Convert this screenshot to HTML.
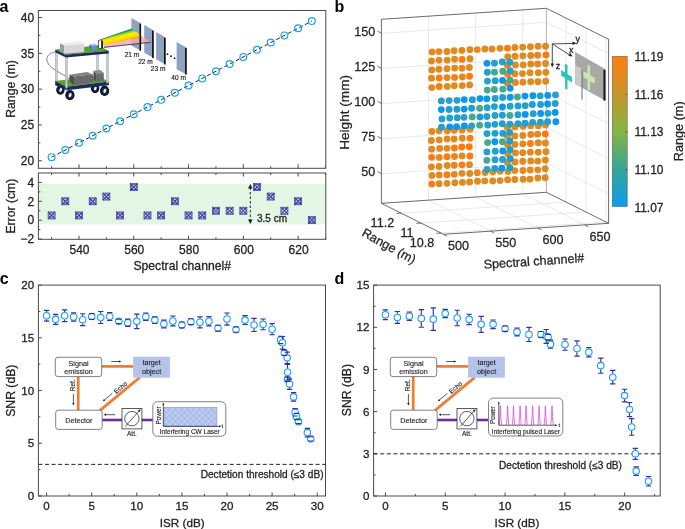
<!DOCTYPE html><html><head><meta charset="utf-8"><style>html,body{margin:0;padding:0;background:#fff;}svg{display:block;font-family:"Liberation Sans",sans-serif;will-change:transform;}</style></head><body><svg width="685" height="529" viewBox="0 0 685 529" font-family="Liberation Sans, sans-serif"><rect width="685" height="529" fill="#fff"/><text x="-0.6" y="11.6" font-size="16" font-weight="bold" fill="#000">a</text>
<text x="334.6" y="11.6" font-size="16" font-weight="bold" fill="#000">b</text>
<text x="-0.2" y="283.5" font-size="16" font-weight="bold" fill="#000">c</text>
<text x="334.6" y="283.5" font-size="16" font-weight="bold" fill="#000">d</text>
<rect x="38.4" y="10.5" width="287.40000000000003" height="157.8" fill="none" stroke="#4a4a4a" stroke-width="1"/>
<line x1="38.40" y1="160.75" x2="41.90" y2="160.75" stroke="#4a4a4a" stroke-width="1" />
<text x="34.10" y="164.95" font-size="12" text-anchor="end" fill="#222" stroke="#222" stroke-width="0.28" >20</text>
<line x1="38.40" y1="124.94" x2="41.90" y2="124.94" stroke="#4a4a4a" stroke-width="1" />
<text x="34.10" y="129.14" font-size="12" text-anchor="end" fill="#222" stroke="#222" stroke-width="0.28" >25</text>
<line x1="38.40" y1="89.12" x2="41.90" y2="89.12" stroke="#4a4a4a" stroke-width="1" />
<text x="34.10" y="93.33" font-size="12" text-anchor="end" fill="#222" stroke="#222" stroke-width="0.28" >30</text>
<line x1="38.40" y1="53.31" x2="41.90" y2="53.31" stroke="#4a4a4a" stroke-width="1" />
<text x="34.10" y="57.51" font-size="12" text-anchor="end" fill="#222" stroke="#222" stroke-width="0.28" >35</text>
<line x1="38.40" y1="17.50" x2="41.90" y2="17.50" stroke="#4a4a4a" stroke-width="1" />
<text x="34.10" y="21.70" font-size="12" text-anchor="end" fill="#222" stroke="#222" stroke-width="0.28" >40</text>
<line x1="38.40" y1="142.84" x2="40.40" y2="142.84" stroke="#4a4a4a" stroke-width="1" />
<line x1="38.40" y1="107.03" x2="40.40" y2="107.03" stroke="#4a4a4a" stroke-width="1" />
<line x1="38.40" y1="71.22" x2="40.40" y2="71.22" stroke="#4a4a4a" stroke-width="1" />
<line x1="38.40" y1="35.41" x2="40.40" y2="35.41" stroke="#4a4a4a" stroke-width="1" />
<line x1="51.60" y1="168.30" x2="51.60" y2="166.30" stroke="#4a4a4a" stroke-width="1" />
<line x1="78.99" y1="168.30" x2="78.99" y2="164.30" stroke="#4a4a4a" stroke-width="1" />
<line x1="106.38" y1="168.30" x2="106.38" y2="166.30" stroke="#4a4a4a" stroke-width="1" />
<line x1="133.77" y1="168.30" x2="133.77" y2="164.30" stroke="#4a4a4a" stroke-width="1" />
<line x1="161.16" y1="168.30" x2="161.16" y2="166.30" stroke="#4a4a4a" stroke-width="1" />
<line x1="188.55" y1="168.30" x2="188.55" y2="164.30" stroke="#4a4a4a" stroke-width="1" />
<line x1="215.94" y1="168.30" x2="215.94" y2="166.30" stroke="#4a4a4a" stroke-width="1" />
<line x1="243.33" y1="168.30" x2="243.33" y2="164.30" stroke="#4a4a4a" stroke-width="1" />
<line x1="270.72" y1="168.30" x2="270.72" y2="166.30" stroke="#4a4a4a" stroke-width="1" />
<line x1="298.11" y1="168.30" x2="298.11" y2="164.30" stroke="#4a4a4a" stroke-width="1" />
<line x1="325.50" y1="168.30" x2="325.50" y2="166.30" stroke="#4a4a4a" stroke-width="1" />
<text x="0" y="0" font-size="12.2" text-anchor="middle" fill="#222" stroke="#222" stroke-width="0.28" transform="translate(15.30 88.95) rotate(-90)">Range (m)</text>
<line x1="51.60" y1="157.17" x2="311.81" y2="21.08" stroke="#222" stroke-width="1" stroke-dasharray="4 2.5"/>
<circle cx="51.60" cy="157.17" r="3.4" fill="none" stroke="#1aa0ec" stroke-width="1.2"/>
<circle cx="65.30" cy="150.01" r="3.4" fill="none" stroke="#1aa0ec" stroke-width="1.2"/>
<circle cx="78.99" cy="142.84" r="3.4" fill="none" stroke="#1aa0ec" stroke-width="1.2"/>
<circle cx="92.69" cy="135.68" r="3.4" fill="none" stroke="#1aa0ec" stroke-width="1.2"/>
<circle cx="106.38" cy="128.52" r="3.4" fill="none" stroke="#1aa0ec" stroke-width="1.2"/>
<circle cx="120.07" cy="121.36" r="3.4" fill="none" stroke="#1aa0ec" stroke-width="1.2"/>
<circle cx="133.77" cy="114.19" r="3.4" fill="none" stroke="#1aa0ec" stroke-width="1.2"/>
<circle cx="147.47" cy="107.03" r="3.4" fill="none" stroke="#1aa0ec" stroke-width="1.2"/>
<circle cx="161.16" cy="99.87" r="3.4" fill="none" stroke="#1aa0ec" stroke-width="1.2"/>
<circle cx="174.85" cy="92.71" r="3.4" fill="none" stroke="#1aa0ec" stroke-width="1.2"/>
<circle cx="188.55" cy="85.54" r="3.4" fill="none" stroke="#1aa0ec" stroke-width="1.2"/>
<circle cx="202.24" cy="78.38" r="3.4" fill="none" stroke="#1aa0ec" stroke-width="1.2"/>
<circle cx="215.94" cy="71.22" r="3.4" fill="none" stroke="#1aa0ec" stroke-width="1.2"/>
<circle cx="229.63" cy="64.06" r="3.4" fill="none" stroke="#1aa0ec" stroke-width="1.2"/>
<circle cx="243.33" cy="56.89" r="3.4" fill="none" stroke="#1aa0ec" stroke-width="1.2"/>
<circle cx="257.02" cy="49.73" r="3.4" fill="none" stroke="#1aa0ec" stroke-width="1.2"/>
<circle cx="270.72" cy="42.57" r="3.4" fill="none" stroke="#1aa0ec" stroke-width="1.2"/>
<circle cx="284.42" cy="35.41" r="3.4" fill="none" stroke="#1aa0ec" stroke-width="1.2"/>
<circle cx="298.11" cy="28.24" r="3.4" fill="none" stroke="#1aa0ec" stroke-width="1.2"/>
<circle cx="311.81" cy="21.08" r="3.4" fill="none" stroke="#1aa0ec" stroke-width="1.2"/>
<rect x="38.4" y="183.82" width="287.40000000000003" height="40.63" fill="#e3f6e3"/>
<rect x="38.4" y="173" width="287.40000000000003" height="66.30000000000001" fill="none" stroke="#4a4a4a" stroke-width="1"/>
<line x1="38.40" y1="239.10" x2="41.90" y2="239.10" stroke="#4a4a4a" stroke-width="1" />
<text x="34.10" y="243.30" font-size="12" text-anchor="end" fill="#222" stroke="#222" stroke-width="0.28" >−2</text>
<line x1="38.40" y1="220.20" x2="41.90" y2="220.20" stroke="#4a4a4a" stroke-width="1" />
<text x="34.10" y="224.40" font-size="12" text-anchor="end" fill="#222" stroke="#222" stroke-width="0.28" >0</text>
<line x1="38.40" y1="201.30" x2="41.90" y2="201.30" stroke="#4a4a4a" stroke-width="1" />
<text x="34.10" y="205.50" font-size="12" text-anchor="end" fill="#222" stroke="#222" stroke-width="0.28" >2</text>
<line x1="38.40" y1="182.40" x2="41.90" y2="182.40" stroke="#4a4a4a" stroke-width="1" />
<text x="34.10" y="186.60" font-size="12" text-anchor="end" fill="#222" stroke="#222" stroke-width="0.28" >4</text>
<line x1="38.40" y1="229.65" x2="40.40" y2="229.65" stroke="#4a4a4a" stroke-width="1" />
<line x1="38.40" y1="210.75" x2="40.40" y2="210.75" stroke="#4a4a4a" stroke-width="1" />
<line x1="38.40" y1="191.85" x2="40.40" y2="191.85" stroke="#4a4a4a" stroke-width="1" />
<line x1="51.60" y1="239.30" x2="51.60" y2="237.30" stroke="#4a4a4a" stroke-width="1" />
<line x1="51.60" y1="173.00" x2="51.60" y2="175.00" stroke="#4a4a4a" stroke-width="1" />
<line x1="78.99" y1="239.30" x2="78.99" y2="235.80" stroke="#4a4a4a" stroke-width="1" />
<line x1="78.99" y1="173.00" x2="78.99" y2="176.50" stroke="#4a4a4a" stroke-width="1" />
<text x="79.49" y="253.60" font-size="12" text-anchor="middle" fill="#222" stroke="#222" stroke-width="0.28" >540</text>
<line x1="106.38" y1="239.30" x2="106.38" y2="237.30" stroke="#4a4a4a" stroke-width="1" />
<line x1="106.38" y1="173.00" x2="106.38" y2="175.00" stroke="#4a4a4a" stroke-width="1" />
<line x1="133.77" y1="239.30" x2="133.77" y2="235.80" stroke="#4a4a4a" stroke-width="1" />
<line x1="133.77" y1="173.00" x2="133.77" y2="176.50" stroke="#4a4a4a" stroke-width="1" />
<text x="134.27" y="253.60" font-size="12" text-anchor="middle" fill="#222" stroke="#222" stroke-width="0.28" >560</text>
<line x1="161.16" y1="239.30" x2="161.16" y2="237.30" stroke="#4a4a4a" stroke-width="1" />
<line x1="161.16" y1="173.00" x2="161.16" y2="175.00" stroke="#4a4a4a" stroke-width="1" />
<line x1="188.55" y1="239.30" x2="188.55" y2="235.80" stroke="#4a4a4a" stroke-width="1" />
<line x1="188.55" y1="173.00" x2="188.55" y2="176.50" stroke="#4a4a4a" stroke-width="1" />
<text x="189.05" y="253.60" font-size="12" text-anchor="middle" fill="#222" stroke="#222" stroke-width="0.28" >580</text>
<line x1="215.94" y1="239.30" x2="215.94" y2="237.30" stroke="#4a4a4a" stroke-width="1" />
<line x1="215.94" y1="173.00" x2="215.94" y2="175.00" stroke="#4a4a4a" stroke-width="1" />
<line x1="243.33" y1="239.30" x2="243.33" y2="235.80" stroke="#4a4a4a" stroke-width="1" />
<line x1="243.33" y1="173.00" x2="243.33" y2="176.50" stroke="#4a4a4a" stroke-width="1" />
<text x="243.83" y="253.60" font-size="12" text-anchor="middle" fill="#222" stroke="#222" stroke-width="0.28" >600</text>
<line x1="270.72" y1="239.30" x2="270.72" y2="237.30" stroke="#4a4a4a" stroke-width="1" />
<line x1="270.72" y1="173.00" x2="270.72" y2="175.00" stroke="#4a4a4a" stroke-width="1" />
<line x1="298.11" y1="239.30" x2="298.11" y2="235.80" stroke="#4a4a4a" stroke-width="1" />
<line x1="298.11" y1="173.00" x2="298.11" y2="176.50" stroke="#4a4a4a" stroke-width="1" />
<text x="298.61" y="253.60" font-size="12" text-anchor="middle" fill="#222" stroke="#222" stroke-width="0.28" >620</text>
<line x1="325.50" y1="239.30" x2="325.50" y2="237.30" stroke="#4a4a4a" stroke-width="1" />
<line x1="325.50" y1="173.00" x2="325.50" y2="175.00" stroke="#4a4a4a" stroke-width="1" />
<text x="182.20" y="270.00" font-size="12.2" text-anchor="middle" fill="#222" stroke="#222" stroke-width="0.28" >Spectral channel#</text>
<text x="0" y="0" font-size="12.2" text-anchor="middle" fill="#222" stroke="#222" stroke-width="0.28" transform="translate(15.30 206.15) rotate(-90)">Error (cm)</text>
<g stroke="#2b2b9e" fill="none"><rect x="48.10" y="211.97" width="7.0" height="7.0" stroke-width="0.7"/><path d="M48.10 211.97 L55.10 218.97 M48.10 218.97 L55.10 211.97" stroke-width="1.05"/><circle cx="51.60" cy="215.47" r="2.75" stroke-width="0.9"/></g>
<g stroke="#2b2b9e" fill="none"><rect x="61.80" y="197.80" width="7.0" height="7.0" stroke-width="0.7"/><path d="M61.80 197.80 L68.80 204.80 M61.80 204.80 L68.80 197.80" stroke-width="1.05"/><circle cx="65.30" cy="201.30" r="2.75" stroke-width="0.9"/></g>
<g stroke="#2b2b9e" fill="none"><rect x="75.49" y="211.97" width="7.0" height="7.0" stroke-width="0.7"/><path d="M75.49 211.97 L82.49 218.97 M75.49 218.97 L82.49 211.97" stroke-width="1.05"/><circle cx="78.99" cy="215.47" r="2.75" stroke-width="0.9"/></g>
<g stroke="#2b2b9e" fill="none"><rect x="89.19" y="197.80" width="7.0" height="7.0" stroke-width="0.7"/><path d="M89.19 197.80 L96.19 204.80 M89.19 204.80 L96.19 197.80" stroke-width="1.05"/><circle cx="92.69" cy="201.30" r="2.75" stroke-width="0.9"/></g>
<g stroke="#2b2b9e" fill="none"><rect x="102.88" y="193.07" width="7.0" height="7.0" stroke-width="0.7"/><path d="M102.88 193.07 L109.88 200.07 M102.88 200.07 L109.88 193.07" stroke-width="1.05"/><circle cx="106.38" cy="196.57" r="2.75" stroke-width="0.9"/></g>
<g stroke="#2b2b9e" fill="none"><rect x="116.57" y="211.97" width="7.0" height="7.0" stroke-width="0.7"/><path d="M116.57 211.97 L123.57 218.97 M116.57 218.97 L123.57 211.97" stroke-width="1.05"/><circle cx="120.07" cy="215.47" r="2.75" stroke-width="0.9"/></g>
<g stroke="#2b2b9e" fill="none"><rect x="130.27" y="183.62" width="7.0" height="7.0" stroke-width="0.7"/><path d="M130.27 183.62 L137.27 190.62 M130.27 190.62 L137.27 183.62" stroke-width="1.05"/><circle cx="133.77" cy="187.12" r="2.75" stroke-width="0.9"/></g>
<g stroke="#2b2b9e" fill="none"><rect x="143.97" y="211.97" width="7.0" height="7.0" stroke-width="0.7"/><path d="M143.97 211.97 L150.97 218.97 M143.97 218.97 L150.97 211.97" stroke-width="1.05"/><circle cx="147.47" cy="215.47" r="2.75" stroke-width="0.9"/></g>
<g stroke="#2b2b9e" fill="none"><rect x="157.66" y="211.97" width="7.0" height="7.0" stroke-width="0.7"/><path d="M157.66 211.97 L164.66 218.97 M157.66 218.97 L164.66 211.97" stroke-width="1.05"/><circle cx="161.16" cy="215.47" r="2.75" stroke-width="0.9"/></g>
<g stroke="#2b2b9e" fill="none"><rect x="171.35" y="197.80" width="7.0" height="7.0" stroke-width="0.7"/><path d="M171.35 197.80 L178.35 204.80 M171.35 204.80 L178.35 197.80" stroke-width="1.05"/><circle cx="174.85" cy="201.30" r="2.75" stroke-width="0.9"/></g>
<g stroke="#2b2b9e" fill="none"><rect x="185.05" y="211.97" width="7.0" height="7.0" stroke-width="0.7"/><path d="M185.05 211.97 L192.05 218.97 M185.05 218.97 L192.05 211.97" stroke-width="1.05"/><circle cx="188.55" cy="215.47" r="2.75" stroke-width="0.9"/></g>
<g stroke="#2b2b9e" fill="none"><rect x="198.74" y="211.97" width="7.0" height="7.0" stroke-width="0.7"/><path d="M198.74 211.97 L205.74 218.97 M198.74 218.97 L205.74 211.97" stroke-width="1.05"/><circle cx="202.24" cy="215.47" r="2.75" stroke-width="0.9"/></g>
<g stroke="#2b2b9e" fill="none"><rect x="212.44" y="207.25" width="7.0" height="7.0" stroke-width="0.7"/><path d="M212.44 207.25 L219.44 214.25 M212.44 214.25 L219.44 207.25" stroke-width="1.05"/><circle cx="215.94" cy="210.75" r="2.75" stroke-width="0.9"/></g>
<g stroke="#2b2b9e" fill="none"><rect x="226.13" y="207.25" width="7.0" height="7.0" stroke-width="0.7"/><path d="M226.13 207.25 L233.13 214.25 M226.13 214.25 L233.13 207.25" stroke-width="1.05"/><circle cx="229.63" cy="210.75" r="2.75" stroke-width="0.9"/></g>
<g stroke="#2b2b9e" fill="none"><rect x="239.83" y="207.25" width="7.0" height="7.0" stroke-width="0.7"/><path d="M239.83 207.25 L246.83 214.25 M239.83 214.25 L246.83 207.25" stroke-width="1.05"/><circle cx="243.33" cy="210.75" r="2.75" stroke-width="0.9"/></g>
<g stroke="#2b2b9e" fill="none"><rect x="253.52" y="183.62" width="7.0" height="7.0" stroke-width="0.7"/><path d="M253.52 183.62 L260.52 190.62 M253.52 190.62 L260.52 183.62" stroke-width="1.05"/><circle cx="257.02" cy="187.12" r="2.75" stroke-width="0.9"/></g>
<g stroke="#2b2b9e" fill="none"><rect x="267.22" y="193.07" width="7.0" height="7.0" stroke-width="0.7"/><path d="M267.22 193.07 L274.22 200.07 M267.22 200.07 L274.22 193.07" stroke-width="1.05"/><circle cx="270.72" cy="196.57" r="2.75" stroke-width="0.9"/></g>
<g stroke="#2b2b9e" fill="none"><rect x="280.92" y="207.25" width="7.0" height="7.0" stroke-width="0.7"/><path d="M280.92 207.25 L287.92 214.25 M280.92 214.25 L287.92 207.25" stroke-width="1.05"/><circle cx="284.42" cy="210.75" r="2.75" stroke-width="0.9"/></g>
<g stroke="#2b2b9e" fill="none"><rect x="294.61" y="197.80" width="7.0" height="7.0" stroke-width="0.7"/><path d="M294.61 197.80 L301.61 204.80 M294.61 204.80 L301.61 197.80" stroke-width="1.05"/><circle cx="298.11" cy="201.30" r="2.75" stroke-width="0.9"/></g>
<g stroke="#2b2b9e" fill="none"><rect x="308.31" y="216.70" width="7.0" height="7.0" stroke-width="0.7"/><path d="M308.31 216.70 L315.31 223.70 M308.31 223.70 L315.31 216.70" stroke-width="1.05"/><circle cx="311.81" cy="220.20" r="2.75" stroke-width="0.9"/></g>
<line x1="250.3" y1="187.5" x2="250.3" y2="220.5" stroke="#222" stroke-width="1" stroke-dasharray="2.5 2"/>
<path d="M250.3 184 L248 188.5 L252.6 188.5 Z" fill="#222"/>
<path d="M250.3 224 L248 219.5 L252.6 219.5 Z" fill="#222"/>
<text x="257.00" y="221.60" font-size="10" text-anchor="start" fill="#222" stroke="#222" stroke-width="0.28" >3.5 cm</text>
<path d="M57.5 51.5 C 45 53, 44 61, 52 68 L 70 79" fill="none" stroke="#3b4f8f" stroke-width="0.7"/>
<rect x="55.40" y="51" width="1.8" height="31" fill="#c9ccd8" stroke="#8a8e9c" stroke-width="0.4"/>
<rect x="96.60" y="46" width="1.8" height="31" fill="#c9ccd8" stroke="#8a8e9c" stroke-width="0.4"/>
<ellipse cx="60.4" cy="90.0" rx="4.2" ry="4.7" fill="#0b0f1e"/><ellipse cx="60.4" cy="90.0" rx="2.6" ry="3.1" fill="#1c2b5a"/><ellipse cx="60.6" cy="89.8" rx="1.2" ry="2.0" fill="#fff" transform="rotate(20 60.4 90.0)"/>
<ellipse cx="95.1" cy="88.5" rx="4.2" ry="4.7" fill="#0b0f1e"/><ellipse cx="95.1" cy="88.5" rx="2.6" ry="3.1" fill="#1c2b5a"/><ellipse cx="95.3" cy="88.3" rx="1.2" ry="2.0" fill="#fff" transform="rotate(20 95.1 88.5)"/>
<polygon points="55.20,81.00 97.60,75.70 108.90,81.50 66.50,86.80" fill="#5aa02c" stroke="none" stroke-width="0" />
<polygon points="55.20,81.00 66.50,86.80 66.50,90.30 55.20,85.30" fill="#1c2b5a" stroke="none" stroke-width="0" />
<polygon points="66.50,86.80 108.90,81.50 108.90,85.20 66.50,90.30" fill="#1c2b5a" stroke="none" stroke-width="0" />
<polygon points="93.50,70.70 100.50,70.00 103.80,73.00 96.30,73.80" fill="#8a8a8a" stroke="none" stroke-width="0" />
<polygon points="93.50,70.70 96.30,73.80 96.30,81.80 93.50,79.50" fill="#505050" stroke="none" stroke-width="0" />
<polygon points="96.30,73.80 103.80,73.00 103.80,81.00 96.30,81.80" fill="#6b6b6b" stroke="none" stroke-width="0" />
<polygon points="69.50,74.80 86.90,72.10 93.00,74.30 74.10,76.60" fill="#838383" stroke="none" stroke-width="0" />
<polygon points="69.50,74.80 74.10,76.60 74.10,85.20 69.50,81.80" fill="#4f4f4f" stroke="none" stroke-width="0" />
<polygon points="74.10,76.60 93.00,74.30 93.00,82.20 74.10,85.20" fill="#6a6a6a" stroke="none" stroke-width="0" />
<rect x="65.35" y="56" width="1.9" height="32" fill="#c9ccd8" stroke="#8a8e9c" stroke-width="0.4"/>
<rect x="106.45" y="52" width="1.9" height="31" fill="#c9ccd8" stroke="#8a8e9c" stroke-width="0.4"/>
<ellipse cx="69.9" cy="95.2" rx="4.6" ry="5.1" fill="#0b0f1e"/><ellipse cx="69.9" cy="95.2" rx="2.9" ry="3.4" fill="#1c2b5a"/><ellipse cx="70.10000000000001" cy="95.0" rx="1.3" ry="2.2" fill="#fff" transform="rotate(20 69.9 95.2)"/>
<ellipse cx="104.6" cy="90.9" rx="4.6" ry="5.1" fill="#0b0f1e"/><ellipse cx="104.6" cy="90.9" rx="2.9" ry="3.4" fill="#1c2b5a"/><ellipse cx="104.8" cy="90.7" rx="1.3" ry="2.2" fill="#fff" transform="rotate(20 104.6 90.9)"/>
<polygon points="55.30,49.50 98.20,45.60 108.70,50.80 65.80,54.70" fill="#5aa02c" stroke="none" stroke-width="0" />
<polygon points="55.30,49.50 65.80,54.70 65.80,57.40 55.30,52.20" fill="#1c2b5a" stroke="none" stroke-width="0" />
<polygon points="65.80,54.70 108.70,50.80 108.70,53.50 65.80,57.40" fill="#1c2b5a" stroke="none" stroke-width="0" />
<polygon points="60.00,43.30 79.80,41.10 84.20,43.80 64.00,45.50" fill="#eceff6" stroke="none" stroke-width="0" />
<polygon points="60.00,43.30 64.00,45.50 64.00,53.80 60.00,51.50" fill="#9c9c9c" stroke="none" stroke-width="0" />
<polygon points="64.00,45.50 84.20,43.80 84.20,52.10 64.00,53.80" fill="#d8d8dc" stroke="none" stroke-width="0" />
<polygon points="89.50,44.20 94.50,43.50 96.80,45.00 91.50,45.80" fill="#a9c6f4" stroke="none" stroke-width="0" />
<polygon points="89.50,44.20 91.50,45.80 91.50,49.70 89.50,48.00" fill="#3f6fc2" stroke="none" stroke-width="0" />
<polygon points="91.50,45.80 96.80,45.00 96.80,49.00 91.50,49.70" fill="#5c90e2" stroke="none" stroke-width="0" />
<polygon points="131.40,17.90 140.90,23.20 140.90,50.70 131.40,45.40" fill="#8fa3c1" stroke="none" stroke-width="0" />
<polygon points="144.20,24.90 153.50,30.20 153.50,58.00 144.20,52.70" fill="#8fa3c1" stroke="none" stroke-width="0" />
<polygon points="156.10,31.90 165.40,37.20 165.40,64.60 156.10,59.30" fill="#8fa3c1" stroke="none" stroke-width="0" />
<polygon points="176.60,42.10 186.50,47.40 186.50,74.50 176.60,69.30" fill="#8fa3c1" stroke="none" stroke-width="0" />
<defs><linearGradient id="beam" gradientUnits="userSpaceOnUse" x1="119.5" y1="32" x2="122" y2="41.5"><stop offset="0" stop-color="#0a9ad8"/><stop offset="0.12" stop-color="#10b860"/><stop offset="0.32" stop-color="#b8e000"/><stop offset="0.48" stop-color="#ffec00"/><stop offset="0.8" stop-color="#ffd800"/><stop offset="1" stop-color="#ffa000"/></linearGradient></defs>
<polygon points="100.50,39.60 131.80,28.80 142.70,36.80 103.50,45.20" fill="url(#beam)" stroke="none" stroke-width="0" />
<polygon points="103.50,45.20 142.70,36.80 150.80,42.30 103.80,47.40" fill="#f3a9ae" stroke="none" stroke-width="0" fill-opacity="0.85"/>
<line x1="103.8" y1="47.4" x2="150.8" y2="42.3" stroke="#1c2440" stroke-width="0.8"/>
<line x1="100.5" y1="39.6" x2="131.8" y2="28.8" stroke="#1c2440" stroke-width="0.4"/>
<polygon points="98.40,40.60 100.80,39.80 102.40,40.80 102.40,48.20 100.20,48.80 98.40,47.80" fill="#ffffff" stroke="#111" stroke-width="0.7" />
<polygon points="101.20,40.40 102.80,41.00 102.80,48.20 101.20,48.60" fill="#111" stroke="none" stroke-width="0" />
<line x1="140.30" y1="23.70" x2="140.30" y2="50.70" stroke="#0a0a0a" stroke-width="1.6"/>
<line x1="152.90" y1="30.70" x2="152.90" y2="58.00" stroke="#0a0a0a" stroke-width="1.6"/>
<line x1="164.80" y1="37.70" x2="164.80" y2="64.60" stroke="#0a0a0a" stroke-width="1.6"/>
<line x1="185.90" y1="47.90" x2="185.90" y2="74.50" stroke="#0a0a0a" stroke-width="1.6"/>
<text x="132.00" y="56.80" font-size="6.6" text-anchor="middle" fill="#111" stroke="#111" stroke-width="0.12" >21 m</text>
<text x="145.50" y="64.10" font-size="6.6" text-anchor="middle" fill="#111" stroke="#111" stroke-width="0.12" >22 m</text>
<text x="158.10" y="70.70" font-size="6.6" text-anchor="middle" fill="#111" stroke="#111" stroke-width="0.12" >23 m</text>
<text x="178.60" y="80.20" font-size="6.6" text-anchor="middle" fill="#111" stroke="#111" stroke-width="0.12" >40 m</text>
<circle cx="167.5" cy="54.2" r="0.9" fill="#111"/>
<circle cx="171.0" cy="56.2" r="0.9" fill="#111"/>
<circle cx="174.6" cy="58.2" r="0.9" fill="#111"/>
<line x1="381.40" y1="173.80" x2="546.40" y2="162.80" stroke="#e3e3e3" stroke-width="0.8" />
<line x1="381.40" y1="138.70" x2="546.40" y2="127.70" stroke="#e3e3e3" stroke-width="0.8" />
<line x1="381.40" y1="103.60" x2="546.40" y2="92.60" stroke="#e3e3e3" stroke-width="0.8" />
<line x1="381.40" y1="68.50" x2="546.40" y2="57.50" stroke="#e3e3e3" stroke-width="0.8" />
<line x1="381.40" y1="33.39" x2="546.40" y2="22.39" stroke="#e3e3e3" stroke-width="0.8" />
<line x1="428.51" y1="200.16" x2="428.51" y2="16.16" stroke="#e3e3e3" stroke-width="0.8" />
<line x1="475.61" y1="197.02" x2="475.61" y2="13.02" stroke="#e3e3e3" stroke-width="0.8" />
<line x1="522.72" y1="193.88" x2="522.72" y2="9.88" stroke="#e3e3e3" stroke-width="0.8" />
<line x1="546.40" y1="162.80" x2="608.60" y2="193.80" stroke="#e3e3e3" stroke-width="0.8" />
<line x1="546.40" y1="127.70" x2="608.60" y2="158.70" stroke="#e3e3e3" stroke-width="0.8" />
<line x1="546.40" y1="92.60" x2="608.60" y2="123.60" stroke="#e3e3e3" stroke-width="0.8" />
<line x1="546.40" y1="57.50" x2="608.60" y2="88.50" stroke="#e3e3e3" stroke-width="0.8" />
<line x1="546.40" y1="22.39" x2="608.60" y2="53.39" stroke="#e3e3e3" stroke-width="0.8" />
<line x1="565.99" y1="202.06" x2="565.99" y2="18.07" stroke="#e3e3e3" stroke-width="0.8" />
<line x1="586.02" y1="212.05" x2="586.02" y2="28.05" stroke="#e3e3e3" stroke-width="0.8" />
<line x1="606.05" y1="222.03" x2="606.05" y2="38.03" stroke="#e3e3e3" stroke-width="0.8" />
<line x1="428.51" y1="200.16" x2="490.71" y2="231.16" stroke="#e3e3e3" stroke-width="0.8" />
<line x1="475.61" y1="197.02" x2="537.81" y2="228.02" stroke="#e3e3e3" stroke-width="0.8" />
<line x1="522.72" y1="193.88" x2="584.92" y2="224.88" stroke="#e3e3e3" stroke-width="0.8" />
<line x1="400.99" y1="213.06" x2="565.99" y2="202.06" stroke="#e3e3e3" stroke-width="0.8" />
<line x1="421.02" y1="223.05" x2="586.02" y2="212.05" stroke="#e3e3e3" stroke-width="0.8" />
<line x1="441.05" y1="233.03" x2="606.05" y2="222.03" stroke="#e3e3e3" stroke-width="0.8" />
<line x1="381.40" y1="203.30" x2="381.40" y2="19.30" stroke="#3a3a3a" stroke-width="0.75" />
<line x1="381.40" y1="19.30" x2="546.40" y2="8.30" stroke="#3a3a3a" stroke-width="0.75" />
<line x1="546.40" y1="192.30" x2="546.40" y2="8.30" stroke="#9a9a9a" stroke-width="0.75" />
<line x1="381.40" y1="203.30" x2="546.40" y2="192.30" stroke="#3a3a3a" stroke-width="0.75" />
<line x1="546.40" y1="8.30" x2="608.60" y2="39.30" stroke="#3a3a3a" stroke-width="0.75" />
<line x1="608.60" y1="39.30" x2="608.60" y2="223.30" stroke="#3a3a3a" stroke-width="0.75" />
<line x1="546.40" y1="192.30" x2="608.60" y2="223.30" stroke="#3a3a3a" stroke-width="0.75" />
<line x1="381.40" y1="203.30" x2="443.60" y2="234.30" stroke="#3a3a3a" stroke-width="0.75" />
<line x1="443.60" y1="234.30" x2="608.60" y2="223.30" stroke="#3a3a3a" stroke-width="0.75" />
<line x1="381.40" y1="173.80" x2="377.50" y2="171.40" stroke="#3a3a3a" stroke-width="0.7" />
<text x="375.30" y="176.00" font-size="12.6" text-anchor="end" fill="#262626" stroke="#262626" stroke-width="0.28" >50</text>
<line x1="381.40" y1="138.70" x2="377.50" y2="136.30" stroke="#3a3a3a" stroke-width="0.7" />
<text x="375.30" y="140.90" font-size="12.6" text-anchor="end" fill="#262626" stroke="#262626" stroke-width="0.28" >75</text>
<line x1="381.40" y1="103.60" x2="377.50" y2="101.20" stroke="#3a3a3a" stroke-width="0.7" />
<text x="375.30" y="105.80" font-size="12.6" text-anchor="end" fill="#262626" stroke="#262626" stroke-width="0.28" >100</text>
<line x1="381.40" y1="68.50" x2="377.50" y2="66.10" stroke="#3a3a3a" stroke-width="0.7" />
<text x="375.30" y="70.70" font-size="12.6" text-anchor="end" fill="#262626" stroke="#262626" stroke-width="0.28" >125</text>
<line x1="381.40" y1="33.39" x2="377.50" y2="30.99" stroke="#3a3a3a" stroke-width="0.7" />
<text x="375.30" y="35.59" font-size="12.6" text-anchor="end" fill="#262626" stroke="#262626" stroke-width="0.28" >150</text>
<line x1="400.99" y1="213.06" x2="396.19" y2="213.37" stroke="#3a3a3a" stroke-width="0.7" />
<text x="394.20" y="227.00" font-size="12.6" text-anchor="end" fill="#262626" stroke="#262626" stroke-width="0.28" >11.2</text>
<line x1="421.02" y1="223.05" x2="416.22" y2="223.35" stroke="#3a3a3a" stroke-width="0.7" />
<text x="413.50" y="236.80" font-size="12.6" text-anchor="end" fill="#262626" stroke="#262626" stroke-width="0.28" >11</text>
<line x1="441.05" y1="233.03" x2="436.25" y2="233.33" stroke="#3a3a3a" stroke-width="0.7" />
<text x="434.30" y="247.20" font-size="12.6" text-anchor="end" fill="#262626" stroke="#262626" stroke-width="0.28" >10.8</text>
<line x1="443.60" y1="234.30" x2="447.20" y2="236.20" stroke="#3a3a3a" stroke-width="0.7" />
<text x="458.60" y="249.60" font-size="12.6" text-anchor="middle" fill="#262626" stroke="#262626" stroke-width="0.28" >500</text>
<line x1="490.71" y1="231.16" x2="494.31" y2="233.06" stroke="#3a3a3a" stroke-width="0.7" />
<text x="505.80" y="247.20" font-size="12.6" text-anchor="middle" fill="#262626" stroke="#262626" stroke-width="0.28" >550</text>
<line x1="537.81" y1="228.02" x2="541.41" y2="229.92" stroke="#3a3a3a" stroke-width="0.7" />
<text x="553.00" y="243.50" font-size="12.6" text-anchor="middle" fill="#262626" stroke="#262626" stroke-width="0.28" >600</text>
<line x1="584.92" y1="224.88" x2="588.52" y2="226.78" stroke="#3a3a3a" stroke-width="0.7" />
<text x="600.10" y="240.70" font-size="12.6" text-anchor="middle" fill="#262626" stroke="#262626" stroke-width="0.28" >650</text>
<text x="534.00" y="265.50" font-size="12.6" text-anchor="middle" fill="#262626" stroke="#262626" stroke-width="0.28" transform="rotate(-3.8 534 261)">Spectral channel#</text>
<text x="389.00" y="250.30" font-size="12.6" text-anchor="middle" fill="#262626" stroke="#262626" stroke-width="0.28" transform="rotate(29 389 246)">Range (m)</text>
<text x="0" y="0" font-size="13.6" text-anchor="middle" fill="#262626" stroke="#262626" stroke-width="0.28" transform="translate(349.00 112.40) rotate(-90)">Height (mm)</text>
<circle cx="432.06" cy="51.92" r="3.45" fill="#e08a1f"/>
<circle cx="438.95" cy="51.62" r="3.45" fill="#e08a1f"/>
<circle cx="446.95" cy="51.51" r="3.45" fill="#e08a1f"/>
<circle cx="454.10" cy="50.72" r="3.45" fill="#e08a1f"/>
<circle cx="461.85" cy="50.40" r="3.45" fill="#e08a1f"/>
<circle cx="469.91" cy="49.65" r="3.45" fill="#e08a1f"/>
<circle cx="477.34" cy="49.61" r="3.45" fill="#e08a1f"/>
<circle cx="484.89" cy="49.05" r="3.45" fill="#e08a1f"/>
<circle cx="492.06" cy="49.01" r="3.45" fill="#e08a1f"/>
<circle cx="499.95" cy="48.34" r="3.45" fill="#e08a1f"/>
<circle cx="507.45" cy="48.15" r="3.45" fill="#ff7a12"/>
<circle cx="514.87" cy="47.55" r="3.45" fill="#e08a1f"/>
<circle cx="522.68" cy="47.12" r="3.45" fill="#e08a1f"/>
<circle cx="530.42" cy="46.77" r="3.45" fill="#e08a1f"/>
<circle cx="538.10" cy="46.20" r="3.45" fill="#de8c22"/>
<circle cx="545.52" cy="46.19" r="3.45" fill="#e08a1f"/>
<circle cx="431.54" cy="61.05" r="3.45" fill="#e08a1f"/>
<circle cx="438.96" cy="60.24" r="3.45" fill="#e08a1f"/>
<circle cx="447.18" cy="60.17" r="3.45" fill="#de8c22"/>
<circle cx="454.56" cy="59.24" r="3.45" fill="#e08a1f"/>
<circle cx="461.99" cy="59.38" r="3.45" fill="#ff7a12"/>
<circle cx="470.00" cy="58.70" r="3.45" fill="#e08a1f"/>
<circle cx="507.81" cy="56.77" r="3.45" fill="#e08a1f"/>
<circle cx="515.06" cy="56.18" r="3.45" fill="#e08a1f"/>
<circle cx="522.84" cy="55.85" r="3.45" fill="#de8c22"/>
<circle cx="530.73" cy="55.46" r="3.45" fill="#e08a1f"/>
<circle cx="537.61" cy="55.23" r="3.45" fill="#e08a1f"/>
<circle cx="545.94" cy="54.92" r="3.45" fill="#ff7a12"/>
<circle cx="431.87" cy="69.93" r="3.45" fill="#e08a1f"/>
<circle cx="438.91" cy="69.18" r="3.45" fill="#e08a1f"/>
<circle cx="446.97" cy="68.79" r="3.45" fill="#e08a1f"/>
<circle cx="454.68" cy="68.09" r="3.45" fill="#e08a1f"/>
<circle cx="461.98" cy="68.31" r="3.45" fill="#e08a1f"/>
<circle cx="469.31" cy="67.53" r="3.45" fill="#de8c22"/>
<circle cx="507.42" cy="65.23" r="3.45" fill="#ff7a12"/>
<circle cx="515.48" cy="64.93" r="3.45" fill="#de8c22"/>
<circle cx="523.17" cy="64.85" r="3.45" fill="#de8c22"/>
<circle cx="530.74" cy="64.01" r="3.45" fill="#de8c22"/>
<circle cx="537.68" cy="64.01" r="3.45" fill="#e08a1f"/>
<circle cx="545.54" cy="63.54" r="3.45" fill="#e08a1f"/>
<circle cx="431.53" cy="78.15" r="3.45" fill="#e08a1f"/>
<circle cx="439.19" cy="78.07" r="3.45" fill="#ff7a12"/>
<circle cx="447.03" cy="77.62" r="3.45" fill="#e08a1f"/>
<circle cx="454.59" cy="77.39" r="3.45" fill="#ff7a12"/>
<circle cx="462.38" cy="77.01" r="3.45" fill="#de8c22"/>
<circle cx="469.56" cy="76.30" r="3.45" fill="#ff7a12"/>
<circle cx="507.59" cy="74.25" r="3.45" fill="#e08a1f"/>
<circle cx="514.84" cy="73.69" r="3.45" fill="#e08a1f"/>
<circle cx="522.47" cy="73.59" r="3.45" fill="#e08a1f"/>
<circle cx="529.97" cy="72.82" r="3.45" fill="#e08a1f"/>
<circle cx="538.32" cy="72.78" r="3.45" fill="#e08a1f"/>
<circle cx="545.85" cy="72.37" r="3.45" fill="#e08a1f"/>
<circle cx="431.81" cy="87.60" r="3.45" fill="#e08a1f"/>
<circle cx="439.18" cy="86.53" r="3.45" fill="#ff7a12"/>
<circle cx="447.27" cy="86.39" r="3.45" fill="#de8c22"/>
<circle cx="454.32" cy="85.73" r="3.45" fill="#de8c22"/>
<circle cx="462.25" cy="85.58" r="3.45" fill="#e08a1f"/>
<circle cx="469.66" cy="84.95" r="3.45" fill="#e08a1f"/>
<circle cx="507.49" cy="83.29" r="3.45" fill="#ff7a12"/>
<circle cx="515.40" cy="82.57" r="3.45" fill="#e08a1f"/>
<circle cx="522.94" cy="82.13" r="3.45" fill="#e08a1f"/>
<circle cx="530.70" cy="81.79" r="3.45" fill="#e08a1f"/>
<circle cx="537.99" cy="81.72" r="3.45" fill="#e08a1f"/>
<circle cx="545.66" cy="81.18" r="3.45" fill="#e08a1f"/>
<circle cx="431.94" cy="131.54" r="3.45" fill="#e08a1f"/>
<circle cx="439.05" cy="130.87" r="3.45" fill="#e08a1f"/>
<circle cx="447.27" cy="130.70" r="3.45" fill="#e08a1f"/>
<circle cx="454.28" cy="130.21" r="3.45" fill="#de8c22"/>
<circle cx="462.02" cy="130.00" r="3.45" fill="#e08a1f"/>
<circle cx="470.01" cy="129.13" r="3.45" fill="#e08a1f"/>
<circle cx="507.28" cy="127.17" r="3.45" fill="#e08a1f"/>
<circle cx="514.95" cy="126.88" r="3.45" fill="#e08a1f"/>
<circle cx="523.05" cy="126.35" r="3.45" fill="#ff7a12"/>
<circle cx="530.61" cy="125.63" r="3.45" fill="#e08a1f"/>
<circle cx="538.29" cy="125.78" r="3.45" fill="#e08a1f"/>
<circle cx="545.53" cy="124.88" r="3.45" fill="#e08a1f"/>
<circle cx="431.37" cy="140.46" r="3.45" fill="#e08a1f"/>
<circle cx="439.26" cy="139.88" r="3.45" fill="#de8c22"/>
<circle cx="447.06" cy="139.02" r="3.45" fill="#e08a1f"/>
<circle cx="454.09" cy="138.94" r="3.45" fill="#e08a1f"/>
<circle cx="462.31" cy="138.18" r="3.45" fill="#de8c22"/>
<circle cx="470.03" cy="138.18" r="3.45" fill="#ff7a12"/>
<circle cx="507.32" cy="136.04" r="3.45" fill="#e08a1f"/>
<circle cx="514.80" cy="135.97" r="3.45" fill="#e08a1f"/>
<circle cx="522.80" cy="135.53" r="3.45" fill="#e08a1f"/>
<circle cx="530.76" cy="134.53" r="3.45" fill="#de8c22"/>
<circle cx="537.58" cy="134.13" r="3.45" fill="#e08a1f"/>
<circle cx="545.34" cy="134.02" r="3.45" fill="#ff7a12"/>
<circle cx="431.74" cy="149.18" r="3.45" fill="#e08a1f"/>
<circle cx="439.62" cy="148.38" r="3.45" fill="#e08a1f"/>
<circle cx="447.01" cy="148.34" r="3.45" fill="#de8c22"/>
<circle cx="454.41" cy="148.01" r="3.45" fill="#ff7a12"/>
<circle cx="461.76" cy="146.99" r="3.45" fill="#ff7a12"/>
<circle cx="469.26" cy="146.81" r="3.45" fill="#ff7a12"/>
<circle cx="507.69" cy="145.03" r="3.45" fill="#e08a1f"/>
<circle cx="514.93" cy="144.38" r="3.45" fill="#e08a1f"/>
<circle cx="522.83" cy="143.85" r="3.45" fill="#e08a1f"/>
<circle cx="530.39" cy="143.57" r="3.45" fill="#ff7a12"/>
<circle cx="538.27" cy="142.82" r="3.45" fill="#e08a1f"/>
<circle cx="545.37" cy="142.98" r="3.45" fill="#e08a1f"/>
<circle cx="431.66" cy="157.34" r="3.45" fill="#ff7a12"/>
<circle cx="439.24" cy="157.40" r="3.45" fill="#e08a1f"/>
<circle cx="446.96" cy="156.66" r="3.45" fill="#ff7a12"/>
<circle cx="454.43" cy="156.52" r="3.45" fill="#e08a1f"/>
<circle cx="462.07" cy="155.88" r="3.45" fill="#de8c22"/>
<circle cx="469.95" cy="156.02" r="3.45" fill="#ff7a12"/>
<circle cx="507.94" cy="153.93" r="3.45" fill="#e08a1f"/>
<circle cx="515.46" cy="152.92" r="3.45" fill="#e08a1f"/>
<circle cx="522.69" cy="152.65" r="3.45" fill="#e08a1f"/>
<circle cx="530.31" cy="152.16" r="3.45" fill="#e08a1f"/>
<circle cx="538.19" cy="152.30" r="3.45" fill="#e08a1f"/>
<circle cx="545.90" cy="151.68" r="3.45" fill="#e08a1f"/>
<circle cx="431.41" cy="166.84" r="3.45" fill="#e08a1f"/>
<circle cx="439.07" cy="166.48" r="3.45" fill="#de8c22"/>
<circle cx="447.19" cy="165.44" r="3.45" fill="#de8c22"/>
<circle cx="454.20" cy="165.25" r="3.45" fill="#e08a1f"/>
<circle cx="461.98" cy="164.83" r="3.45" fill="#ff7a12"/>
<circle cx="469.50" cy="164.66" r="3.45" fill="#e08a1f"/>
<circle cx="507.47" cy="162.40" r="3.45" fill="#e08a1f"/>
<circle cx="515.10" cy="162.03" r="3.45" fill="#e08a1f"/>
<circle cx="522.79" cy="161.26" r="3.45" fill="#e08a1f"/>
<circle cx="530.75" cy="160.88" r="3.45" fill="#e08a1f"/>
<circle cx="537.78" cy="161.11" r="3.45" fill="#e08a1f"/>
<circle cx="545.37" cy="160.08" r="3.45" fill="#e08a1f"/>
<circle cx="431.98" cy="175.48" r="3.45" fill="#de8c22"/>
<circle cx="439.21" cy="174.96" r="3.45" fill="#e08a1f"/>
<circle cx="446.94" cy="174.68" r="3.45" fill="#ff7a12"/>
<circle cx="454.29" cy="174.35" r="3.45" fill="#e08a1f"/>
<circle cx="462.00" cy="173.36" r="3.45" fill="#e08a1f"/>
<circle cx="469.76" cy="173.53" r="3.45" fill="#e08a1f"/>
<circle cx="477.33" cy="172.66" r="3.45" fill="#e08a1f"/>
<circle cx="485.12" cy="172.43" r="3.45" fill="#e08a1f"/>
<circle cx="492.82" cy="171.99" r="3.45" fill="#e08a1f"/>
<circle cx="500.11" cy="171.28" r="3.45" fill="#e08a1f"/>
<circle cx="507.95" cy="171.62" r="3.45" fill="#e08a1f"/>
<circle cx="514.83" cy="170.59" r="3.45" fill="#e08a1f"/>
<circle cx="522.88" cy="170.44" r="3.45" fill="#e08a1f"/>
<circle cx="530.20" cy="170.01" r="3.45" fill="#e08a1f"/>
<circle cx="537.78" cy="169.84" r="3.45" fill="#e08a1f"/>
<circle cx="545.18" cy="168.80" r="3.45" fill="#e08a1f"/>
<circle cx="431.74" cy="183.90" r="3.45" fill="#ff7a12"/>
<circle cx="439.09" cy="183.70" r="3.45" fill="#de8c22"/>
<circle cx="447.01" cy="183.37" r="3.45" fill="#de8c22"/>
<circle cx="454.85" cy="182.77" r="3.45" fill="#de8c22"/>
<circle cx="462.45" cy="182.38" r="3.45" fill="#e08a1f"/>
<circle cx="469.57" cy="181.98" r="3.45" fill="#e08a1f"/>
<circle cx="477.51" cy="181.30" r="3.45" fill="#e08a1f"/>
<circle cx="484.77" cy="180.92" r="3.45" fill="#e08a1f"/>
<circle cx="492.72" cy="181.01" r="3.45" fill="#de8c22"/>
<circle cx="500.09" cy="180.61" r="3.45" fill="#e08a1f"/>
<circle cx="507.57" cy="179.78" r="3.45" fill="#e08a1f"/>
<circle cx="514.79" cy="179.53" r="3.45" fill="#de8c22"/>
<circle cx="523.16" cy="179.27" r="3.45" fill="#e08a1f"/>
<circle cx="530.00" cy="179.13" r="3.45" fill="#e08a1f"/>
<circle cx="537.85" cy="178.01" r="3.45" fill="#e08a1f"/>
<circle cx="545.22" cy="177.82" r="3.45" fill="#de8c22"/>
<circle cx="486.94" cy="63.35" r="3.45" fill="#0b97ee"/>
<circle cx="494.42" cy="63.26" r="3.45" fill="#23a0cb"/>
<circle cx="502.32" cy="62.07" r="3.45" fill="#23a0cb"/>
<circle cx="509.81" cy="62.25" r="3.45" fill="#23a0cb"/>
<circle cx="487.33" cy="72.19" r="3.45" fill="#23a0cb"/>
<circle cx="494.49" cy="72.14" r="3.45" fill="#45a88f"/>
<circle cx="502.80" cy="71.23" r="3.45" fill="#45a88f"/>
<circle cx="510.23" cy="70.92" r="3.45" fill="#22a0ce"/>
<circle cx="487.46" cy="81.11" r="3.45" fill="#22a0ce"/>
<circle cx="495.15" cy="80.78" r="3.45" fill="#23a0cb"/>
<circle cx="502.55" cy="80.38" r="3.45" fill="#0b97ee"/>
<circle cx="510.02" cy="80.15" r="3.45" fill="#45a88f"/>
<circle cx="487.24" cy="90.11" r="3.45" fill="#45a88f"/>
<circle cx="494.35" cy="89.56" r="3.45" fill="#45a88f"/>
<circle cx="502.81" cy="89.14" r="3.45" fill="#45a88f"/>
<circle cx="510.15" cy="88.14" r="3.45" fill="#0b97ee"/>
<circle cx="441.33" cy="100.91" r="3.45" fill="#23a0cb"/>
<circle cx="449.17" cy="100.59" r="3.45" fill="#23a0cb"/>
<circle cx="457.01" cy="100.36" r="3.45" fill="#23a0cb"/>
<circle cx="464.21" cy="99.58" r="3.45" fill="#0b97ee"/>
<circle cx="472.36" cy="99.66" r="3.45" fill="#1c9fd2"/>
<circle cx="480.05" cy="98.59" r="3.45" fill="#0b97ee"/>
<circle cx="486.81" cy="98.83" r="3.45" fill="#0b97ee"/>
<circle cx="495.14" cy="98.53" r="3.45" fill="#22a0ce"/>
<circle cx="502.65" cy="97.48" r="3.45" fill="#23a0cb"/>
<circle cx="510.16" cy="97.32" r="3.45" fill="#0b97ee"/>
<circle cx="517.48" cy="96.93" r="3.45" fill="#45a88f"/>
<circle cx="524.98" cy="96.09" r="3.45" fill="#0b97ee"/>
<circle cx="532.92" cy="95.71" r="3.45" fill="#0b97ee"/>
<circle cx="540.20" cy="95.87" r="3.45" fill="#23a0cb"/>
<circle cx="547.76" cy="95.38" r="3.45" fill="#0b97ee"/>
<circle cx="555.53" cy="94.89" r="3.45" fill="#23a0cb"/>
<circle cx="441.30" cy="109.58" r="3.45" fill="#0b97ee"/>
<circle cx="449.08" cy="109.47" r="3.45" fill="#1c9fd2"/>
<circle cx="456.85" cy="109.31" r="3.45" fill="#1c9fd2"/>
<circle cx="464.17" cy="109.11" r="3.45" fill="#0b97ee"/>
<circle cx="471.58" cy="108.18" r="3.45" fill="#1c9fd2"/>
<circle cx="479.66" cy="108.30" r="3.45" fill="#45a88f"/>
<circle cx="487.13" cy="107.82" r="3.45" fill="#22a0ce"/>
<circle cx="494.40" cy="106.58" r="3.45" fill="#23a0cb"/>
<circle cx="502.44" cy="107.03" r="3.45" fill="#0b97ee"/>
<circle cx="510.11" cy="106.30" r="3.45" fill="#23a0cb"/>
<circle cx="517.99" cy="105.96" r="3.45" fill="#22a0ce"/>
<circle cx="525.19" cy="105.73" r="3.45" fill="#23a0cb"/>
<circle cx="532.30" cy="104.44" r="3.45" fill="#1c9fd2"/>
<circle cx="540.55" cy="104.44" r="3.45" fill="#1c9fd2"/>
<circle cx="547.60" cy="103.96" r="3.45" fill="#0b97ee"/>
<circle cx="555.17" cy="103.54" r="3.45" fill="#22a0ce"/>
<circle cx="441.95" cy="119.01" r="3.45" fill="#22a0ce"/>
<circle cx="449.73" cy="117.96" r="3.45" fill="#23a0cb"/>
<circle cx="457.28" cy="117.64" r="3.45" fill="#23a0cb"/>
<circle cx="464.03" cy="117.33" r="3.45" fill="#22a0ce"/>
<circle cx="472.15" cy="116.89" r="3.45" fill="#45a88f"/>
<circle cx="479.91" cy="116.97" r="3.45" fill="#1c9fd2"/>
<circle cx="486.84" cy="116.54" r="3.45" fill="#22a0ce"/>
<circle cx="494.96" cy="115.45" r="3.45" fill="#22a0ce"/>
<circle cx="502.36" cy="115.21" r="3.45" fill="#22a0ce"/>
<circle cx="509.88" cy="115.44" r="3.45" fill="#45a88f"/>
<circle cx="517.91" cy="114.70" r="3.45" fill="#23a0cb"/>
<circle cx="525.24" cy="114.38" r="3.45" fill="#0b97ee"/>
<circle cx="533.21" cy="113.66" r="3.45" fill="#23a0cb"/>
<circle cx="540.62" cy="113.48" r="3.45" fill="#0b97ee"/>
<circle cx="547.95" cy="113.34" r="3.45" fill="#22a0ce"/>
<circle cx="555.18" cy="112.49" r="3.45" fill="#0b97ee"/>
<circle cx="441.48" cy="127.24" r="3.45" fill="#22a0ce"/>
<circle cx="449.77" cy="126.83" r="3.45" fill="#0b97ee"/>
<circle cx="456.62" cy="126.64" r="3.45" fill="#0b97ee"/>
<circle cx="464.36" cy="125.92" r="3.45" fill="#0b97ee"/>
<circle cx="471.64" cy="125.84" r="3.45" fill="#23a0cb"/>
<circle cx="479.65" cy="125.15" r="3.45" fill="#45a88f"/>
<circle cx="487.74" cy="124.97" r="3.45" fill="#22a0ce"/>
<circle cx="494.88" cy="124.35" r="3.45" fill="#23a0cb"/>
<circle cx="502.26" cy="123.79" r="3.45" fill="#23a0cb"/>
<circle cx="509.88" cy="124.10" r="3.45" fill="#23a0cb"/>
<circle cx="517.99" cy="123.63" r="3.45" fill="#23a0cb"/>
<circle cx="525.07" cy="123.22" r="3.45" fill="#1c9fd2"/>
<circle cx="532.66" cy="122.40" r="3.45" fill="#23a0cb"/>
<circle cx="540.37" cy="122.22" r="3.45" fill="#23a0cb"/>
<circle cx="547.59" cy="121.74" r="3.45" fill="#22a0ce"/>
<circle cx="555.84" cy="121.68" r="3.45" fill="#0b97ee"/>
<circle cx="487.01" cy="133.58" r="3.45" fill="#23a0cb"/>
<circle cx="494.98" cy="133.35" r="3.45" fill="#1c9fd2"/>
<circle cx="502.77" cy="133.38" r="3.45" fill="#22a0ce"/>
<circle cx="509.64" cy="132.53" r="3.45" fill="#23a0cb"/>
<circle cx="487.64" cy="142.61" r="3.45" fill="#45a88f"/>
<circle cx="494.82" cy="141.80" r="3.45" fill="#0b97ee"/>
<circle cx="502.45" cy="141.79" r="3.45" fill="#45a88f"/>
<circle cx="509.76" cy="141.02" r="3.45" fill="#1c9fd2"/>
<circle cx="486.89" cy="151.92" r="3.45" fill="#23a0cb"/>
<circle cx="495.27" cy="151.26" r="3.45" fill="#23a0cb"/>
<circle cx="502.77" cy="151.02" r="3.45" fill="#0b97ee"/>
<circle cx="510.06" cy="149.76" r="3.45" fill="#23a0cb"/>
<circle cx="486.87" cy="160.33" r="3.45" fill="#45a88f"/>
<circle cx="494.98" cy="159.65" r="3.45" fill="#23a0cb"/>
<circle cx="502.55" cy="159.47" r="3.45" fill="#23a0cb"/>
<circle cx="510.21" cy="158.64" r="3.45" fill="#1c9fd2"/>
<circle cx="487.04" cy="169.51" r="3.45" fill="#23a0cb"/>
<circle cx="494.72" cy="168.38" r="3.45" fill="#23a0cb"/>
<circle cx="501.92" cy="168.29" r="3.45" fill="#0b97ee"/>
<circle cx="509.79" cy="167.66" r="3.45" fill="#1c9fd2"/>
<g stroke="#222" stroke-width="0.8" fill="none"><line x1="552.3" y1="43.9" x2="574.5" y2="43.4"/><line x1="552.3" y1="43.9" x2="571" y2="55.8"/><line x1="552.3" y1="43.9" x2="552.3" y2="65.5"/></g>
<path d="M576.5 43.3 L572.5 41.6 L572.5 45.1 Z" fill="#222"/>
<path d="M572.6 56.6 L568.4 55.9 L570.3 53.0 Z" fill="#222"/>
<path d="M552.3 67.5 L550.6 63.6 L554.0 63.6 Z" fill="#222"/>
<text x="577.80" y="41.50" font-size="9" text-anchor="middle" fill="#222" stroke="#222" stroke-width="0.28" >y</text>
<text x="571.20" y="52.80" font-size="9" text-anchor="middle" fill="#222" stroke="#222" stroke-width="0.28" >x</text>
<text x="557.90" y="69.00" font-size="9" text-anchor="middle" fill="#222" stroke="#222" stroke-width="0.28" >z</text>
<g fill="#2ec4b4"><polygon points="564.8,63.9 567.5,64.8 567.5,89.8 565.2,88.7"/><polygon points="561.1,70.1 572,76.9 572,82.6 561.1,75.4"/></g>
<polygon points="575.10,52.40 605.10,69.40 605.10,100.50 575.10,84.10" fill="#a8a8a8" stroke="none" stroke-width="0" />
<line x1="575.1" y1="52.4" x2="605.1" y2="69.4" stroke="#8a8a8a" stroke-width="0.6"/>
<polygon points="575.10,64.80 581.90,68.80 581.90,87.50 575.10,84.10" fill="#cacaca" stroke="none" stroke-width="0" />
<line x1="604.5" y1="69.8" x2="604.5" y2="100.6" stroke="#111" stroke-width="2.0"/>
<line x1="582.0" y1="69.4" x2="582.0" y2="99.4" stroke="#777" stroke-width="1.1"/>
<g fill="#c9e6b1"><polygon points="587.5,64.5 590.2,66 590.2,90.6 587.5,89.4"/><polygon points="583.4,71.3 594.7,77.7 594.7,84.1 583.4,76.9"/></g>
<defs><linearGradient id="cbar" x1="0" y1="0" x2="0" y2="1"><stop offset="0" stop-color="#ff7f0e"/><stop offset="0.25" stop-color="#c8952b"/><stop offset="0.5" stop-color="#84b742"/><stop offset="0.75" stop-color="#36a598"/><stop offset="1" stop-color="#0a9cf0"/></linearGradient></defs>
<rect x="612.2" y="56.3" width="15" height="150.3" fill="url(#cbar)" stroke="#555" stroke-width="0.5"/>
<text x="634.40" y="61.05" font-size="12.0" text-anchor="start" fill="#262626" stroke="#262626" stroke-width="0.28" >11.19</text>
<text x="634.40" y="98.72" font-size="12.0" text-anchor="start" fill="#262626" stroke="#262626" stroke-width="0.28" >11.16</text>
<line x1="625.50" y1="94.42" x2="627.20" y2="94.42" stroke="#333" stroke-width="0.7" />
<text x="634.40" y="136.40" font-size="12.0" text-anchor="start" fill="#262626" stroke="#262626" stroke-width="0.28" >11.13</text>
<line x1="625.50" y1="132.10" x2="627.20" y2="132.10" stroke="#333" stroke-width="0.7" />
<text x="634.40" y="174.07" font-size="12.0" text-anchor="start" fill="#262626" stroke="#262626" stroke-width="0.28" >11.10</text>
<line x1="625.50" y1="169.77" x2="627.20" y2="169.77" stroke="#333" stroke-width="0.7" />
<text x="634.40" y="211.75" font-size="12.0" text-anchor="start" fill="#262626" stroke="#262626" stroke-width="0.28" >11.07</text>
<text x="0" y="0" font-size="12.7" text-anchor="middle" fill="#262626" stroke="#262626" stroke-width="0.28" transform="translate(682.70 131.30) rotate(-90)">Range (m)</text>
<line x1="38.40" y1="496.00" x2="41.90" y2="496.00" stroke="#4a4a4a" stroke-width="1" />
<line x1="38.40" y1="443.27" x2="41.90" y2="443.27" stroke="#4a4a4a" stroke-width="1" />
<line x1="38.40" y1="390.55" x2="41.90" y2="390.55" stroke="#4a4a4a" stroke-width="1" />
<line x1="38.40" y1="337.82" x2="41.90" y2="337.82" stroke="#4a4a4a" stroke-width="1" />
<line x1="38.40" y1="285.10" x2="41.90" y2="285.10" stroke="#4a4a4a" stroke-width="1" />
<line x1="38.40" y1="469.64" x2="40.40" y2="469.64" stroke="#4a4a4a" stroke-width="1" />
<line x1="38.40" y1="416.91" x2="40.40" y2="416.91" stroke="#4a4a4a" stroke-width="1" />
<line x1="38.40" y1="364.19" x2="40.40" y2="364.19" stroke="#4a4a4a" stroke-width="1" />
<line x1="38.40" y1="311.46" x2="40.40" y2="311.46" stroke="#4a4a4a" stroke-width="1" />
<line x1="46.60" y1="496.00" x2="46.60" y2="492.50" stroke="#4a4a4a" stroke-width="1" />
<line x1="91.70" y1="496.00" x2="91.70" y2="492.50" stroke="#4a4a4a" stroke-width="1" />
<line x1="136.80" y1="496.00" x2="136.80" y2="492.50" stroke="#4a4a4a" stroke-width="1" />
<line x1="181.90" y1="496.00" x2="181.90" y2="492.50" stroke="#4a4a4a" stroke-width="1" />
<line x1="227.00" y1="496.00" x2="227.00" y2="492.50" stroke="#4a4a4a" stroke-width="1" />
<line x1="272.10" y1="496.00" x2="272.10" y2="492.50" stroke="#4a4a4a" stroke-width="1" />
<line x1="317.20" y1="496.00" x2="317.20" y2="492.50" stroke="#4a4a4a" stroke-width="1" />
<line x1="69.15" y1="496.00" x2="69.15" y2="494.00" stroke="#4a4a4a" stroke-width="1" />
<line x1="114.25" y1="496.00" x2="114.25" y2="494.00" stroke="#4a4a4a" stroke-width="1" />
<line x1="159.35" y1="496.00" x2="159.35" y2="494.00" stroke="#4a4a4a" stroke-width="1" />
<line x1="204.45" y1="496.00" x2="204.45" y2="494.00" stroke="#4a4a4a" stroke-width="1" />
<line x1="249.55" y1="496.00" x2="249.55" y2="494.00" stroke="#4a4a4a" stroke-width="1" />
<line x1="294.65" y1="496.00" x2="294.65" y2="494.00" stroke="#4a4a4a" stroke-width="1" />
<text x="34.20" y="500.10" font-size="11.6" text-anchor="end" fill="#222" stroke="#222" stroke-width="0.28" >0</text>
<text x="34.20" y="447.38" font-size="11.6" text-anchor="end" fill="#222" stroke="#222" stroke-width="0.28" >5</text>
<text x="34.20" y="394.65" font-size="11.6" text-anchor="end" fill="#222" stroke="#222" stroke-width="0.28" >10</text>
<text x="34.20" y="341.93" font-size="11.6" text-anchor="end" fill="#222" stroke="#222" stroke-width="0.28" >15</text>
<text x="34.20" y="289.20" font-size="11.6" text-anchor="end" fill="#222" stroke="#222" stroke-width="0.28" >20</text>
<text x="46.60" y="510.00" font-size="11.6" text-anchor="middle" fill="#222" stroke="#222" stroke-width="0.28" >0</text>
<text x="91.70" y="510.00" font-size="11.6" text-anchor="middle" fill="#222" stroke="#222" stroke-width="0.28" >5</text>
<text x="136.80" y="510.00" font-size="11.6" text-anchor="middle" fill="#222" stroke="#222" stroke-width="0.28" >10</text>
<text x="181.90" y="510.00" font-size="11.6" text-anchor="middle" fill="#222" stroke="#222" stroke-width="0.28" >15</text>
<text x="227.00" y="510.00" font-size="11.6" text-anchor="middle" fill="#222" stroke="#222" stroke-width="0.28" >20</text>
<text x="272.10" y="510.00" font-size="11.6" text-anchor="middle" fill="#222" stroke="#222" stroke-width="0.28" >25</text>
<text x="317.20" y="510.00" font-size="11.6" text-anchor="middle" fill="#222" stroke="#222" stroke-width="0.28" >30</text>
<rect x="38.4" y="285.1" width="287.1" height="210.89999999999998" fill="none" stroke="#4a4a4a" stroke-width="1"/>
<line x1="38.40" y1="464.37" x2="325.50" y2="464.37" stroke="#222" stroke-width="1" stroke-dasharray="4 2.6"/>
<text x="323.50" y="477.70" font-size="10.1" text-anchor="end" fill="#222" stroke="#222" stroke-width="0.28" >Dectetion threshold (≤3 dB)</text>
<text x="0" y="0" font-size="12.2" text-anchor="middle" fill="#222" stroke="#222" stroke-width="0.28" transform="translate(15.30 390.70) rotate(-90)">SNR (dB)</text>
<text x="182.20" y="526.60" font-size="11.7" text-anchor="middle" fill="#222" stroke="#222" stroke-width="0.28" >ISR (dB)</text>
<line x1="373.60" y1="496.00" x2="377.10" y2="496.00" stroke="#4a4a4a" stroke-width="1" />
<line x1="373.60" y1="453.82" x2="377.10" y2="453.82" stroke="#4a4a4a" stroke-width="1" />
<line x1="373.60" y1="411.64" x2="377.10" y2="411.64" stroke="#4a4a4a" stroke-width="1" />
<line x1="373.60" y1="369.46" x2="377.10" y2="369.46" stroke="#4a4a4a" stroke-width="1" />
<line x1="373.60" y1="327.28" x2="377.10" y2="327.28" stroke="#4a4a4a" stroke-width="1" />
<line x1="373.60" y1="285.10" x2="377.10" y2="285.10" stroke="#4a4a4a" stroke-width="1" />
<line x1="373.60" y1="474.91" x2="375.60" y2="474.91" stroke="#4a4a4a" stroke-width="1" />
<line x1="373.60" y1="432.73" x2="375.60" y2="432.73" stroke="#4a4a4a" stroke-width="1" />
<line x1="373.60" y1="390.55" x2="375.60" y2="390.55" stroke="#4a4a4a" stroke-width="1" />
<line x1="373.60" y1="348.37" x2="375.60" y2="348.37" stroke="#4a4a4a" stroke-width="1" />
<line x1="373.60" y1="306.19" x2="375.60" y2="306.19" stroke="#4a4a4a" stroke-width="1" />
<line x1="385.40" y1="496.00" x2="385.40" y2="492.50" stroke="#4a4a4a" stroke-width="1" />
<line x1="445.22" y1="496.00" x2="445.22" y2="492.50" stroke="#4a4a4a" stroke-width="1" />
<line x1="505.05" y1="496.00" x2="505.05" y2="492.50" stroke="#4a4a4a" stroke-width="1" />
<line x1="564.88" y1="496.00" x2="564.88" y2="492.50" stroke="#4a4a4a" stroke-width="1" />
<line x1="624.70" y1="496.00" x2="624.70" y2="492.50" stroke="#4a4a4a" stroke-width="1" />
<line x1="415.31" y1="496.00" x2="415.31" y2="494.00" stroke="#4a4a4a" stroke-width="1" />
<line x1="475.14" y1="496.00" x2="475.14" y2="494.00" stroke="#4a4a4a" stroke-width="1" />
<line x1="534.96" y1="496.00" x2="534.96" y2="494.00" stroke="#4a4a4a" stroke-width="1" />
<line x1="594.79" y1="496.00" x2="594.79" y2="494.00" stroke="#4a4a4a" stroke-width="1" />
<line x1="654.61" y1="496.00" x2="654.61" y2="494.00" stroke="#4a4a4a" stroke-width="1" />
<text x="369.40" y="500.10" font-size="11.6" text-anchor="end" fill="#222" stroke="#222" stroke-width="0.28" >0</text>
<text x="369.40" y="457.92" font-size="11.6" text-anchor="end" fill="#222" stroke="#222" stroke-width="0.28" >3</text>
<text x="369.40" y="415.74" font-size="11.6" text-anchor="end" fill="#222" stroke="#222" stroke-width="0.28" >6</text>
<text x="369.40" y="373.56" font-size="11.6" text-anchor="end" fill="#222" stroke="#222" stroke-width="0.28" >9</text>
<text x="369.40" y="331.38" font-size="11.6" text-anchor="end" fill="#222" stroke="#222" stroke-width="0.28" >12</text>
<text x="369.40" y="289.20" font-size="11.6" text-anchor="end" fill="#222" stroke="#222" stroke-width="0.28" >15</text>
<text x="385.40" y="510.00" font-size="11.6" text-anchor="middle" fill="#222" stroke="#222" stroke-width="0.28" >0</text>
<text x="445.22" y="510.00" font-size="11.6" text-anchor="middle" fill="#222" stroke="#222" stroke-width="0.28" >5</text>
<text x="505.05" y="510.00" font-size="11.6" text-anchor="middle" fill="#222" stroke="#222" stroke-width="0.28" >10</text>
<text x="564.88" y="510.00" font-size="11.6" text-anchor="middle" fill="#222" stroke="#222" stroke-width="0.28" >15</text>
<text x="624.70" y="510.00" font-size="11.6" text-anchor="middle" fill="#222" stroke="#222" stroke-width="0.28" >20</text>
<rect x="373.6" y="285.1" width="286.6" height="210.89999999999998" fill="none" stroke="#4a4a4a" stroke-width="1"/>
<line x1="373.60" y1="453.82" x2="660.20" y2="453.82" stroke="#222" stroke-width="1" stroke-dasharray="4 2.6"/>
<text x="621.90" y="469.40" font-size="10.1" text-anchor="end" fill="#222" stroke="#222" stroke-width="0.28" >Dectetion threshold (≤3 dB)</text>
<text x="0" y="0" font-size="12.2" text-anchor="middle" fill="#222" stroke="#222" stroke-width="0.28" transform="translate(350.70 390.10) rotate(-90)">SNR (dB)</text>
<text x="517.00" y="526.60" font-size="11.7" text-anchor="middle" fill="#222" stroke="#222" stroke-width="0.28" >ISR (dB)</text>
<line x1="101.70" y1="366.30" x2="133.10" y2="366.30" stroke="#ee7d35" stroke-width="2.7" />
<line x1="78.20" y1="376.60" x2="78.20" y2="410.20" stroke="#ee7d35" stroke-width="2.7" />
<line x1="99.80" y1="410.60" x2="139.80" y2="377.40" stroke="#ee7d35" stroke-width="2.7" />
<line x1="102.20" y1="420.00" x2="122.00" y2="420.00" stroke="#6a2ba6" stroke-width="2.6" />
<line x1="141.90" y1="420.00" x2="152.80" y2="420.00" stroke="#6a2ba6" stroke-width="2.6" />
<rect x="55.30" y="357.3" width="46.4" height="19.3" rx="2.6" fill="#fff" stroke="#4d4d4d" stroke-width="0.7"/>
<rect x="55.70" y="410.2" width="46.5" height="19.2" rx="2.6" fill="#fff" stroke="#4d4d4d" stroke-width="0.7"/>
<rect x="133.10" y="356.7" width="36.8" height="21" fill="#b3c3e9"/>
<text x="78.50" y="365.70" font-size="7.2" text-anchor="middle" fill="#222" stroke="#222" stroke-width="0.12" >Signal</text>
<text x="78.50" y="374.40" font-size="7.2" text-anchor="middle" fill="#222" stroke="#222" stroke-width="0.12" >emission</text>
<text x="151.60" y="365.30" font-size="7.2" text-anchor="middle" fill="#222" stroke="#222" stroke-width="0.12" >target</text>
<text x="151.60" y="374.00" font-size="7.2" text-anchor="middle" fill="#222" stroke="#222" stroke-width="0.12" >object</text>
<text x="78.90" y="422.70" font-size="7.2" text-anchor="middle" fill="#222" stroke="#222" stroke-width="0.12" >Detector</text>
<line x1="111.30" y1="361.50" x2="119.38" y2="361.50" stroke="#111" stroke-width="0.7" />
<polygon points="121.30,361.50 118.90,362.58 118.90,360.42" fill="#111" stroke="none" stroke-width="0" />
<line x1="73.40" y1="394.00" x2="73.40" y2="403.58" stroke="#111" stroke-width="0.7" />
<polygon points="73.40,405.50 72.32,403.10 74.48,403.10" fill="#111" stroke="none" stroke-width="0" />
<line x1="112.30" y1="393.40" x2="104.28" y2="400.07" stroke="#111" stroke-width="0.7" />
<polygon points="102.80,401.30 103.95,398.94 105.34,400.60" fill="#111" stroke="none" stroke-width="0" />
<line x1="115.20" y1="414.70" x2="105.52" y2="414.70" stroke="#111" stroke-width="0.7" />
<polygon points="103.60,414.70 106.00,413.62 106.00,415.78" fill="#111" stroke="none" stroke-width="0" />
<text x="72.90" y="385.30" font-size="6.4" text-anchor="middle" fill="#222" stroke="#222" stroke-width="0.12" transform="rotate(-90 72.90 385.3)" dy="2.2">Ref.</text>
<text x="120.60" y="387.60" font-size="6.6" text-anchor="middle" fill="#222" stroke="#222" stroke-width="0.12" transform="rotate(-40 120.60 387.6)" dy="2.2">Echo</text>
<rect x="122.00" y="408.4" width="19.9" height="20.5" fill="#fff" stroke="#333" stroke-width="0.8"/>
<circle cx="131.90" cy="418.6" r="7.2" fill="none" stroke="#333" stroke-width="0.8"/>
<line x1="125.20" y1="426.50" x2="139.22" y2="410.75" stroke="#111" stroke-width="0.7" />
<polygon points="140.60,409.20 139.75,411.92 138.00,410.36" fill="#111" stroke="none" stroke-width="0" />
<text x="131.90" y="436.30" font-size="6.6" text-anchor="middle" fill="#222" stroke="#222" stroke-width="0.12" >Att.</text>
<rect x="152.80" y="401.70" width="73.00" height="34.60" rx="4.6" fill="#fff" stroke="#4d4d4d" stroke-width="0.7"/>
<defs><pattern id="hatch" width="1.2" height="1.2" patternUnits="userSpaceOnUse"><rect width="1.2" height="1.2" fill="#c3d3f3"/><rect width="0.6" height="0.6" fill="#a2b7e8"/><rect x="0.6" y="0.6" width="0.6" height="0.6" fill="#a2b7e8"/></pattern></defs>
<rect x="164.0" y="407.4" width="52.9" height="18.9" fill="url(#hatch)" stroke="#6d86c8" stroke-width="0.5"/>
<line x1="163.30" y1="426.50" x2="163.30" y2="404.26" stroke="#111" stroke-width="0.7" />
<polygon points="163.30,402.50 164.29,404.70 162.31,404.70" fill="#111" stroke="none" stroke-width="0" />
<line x1="163.30" y1="426.30" x2="219.54" y2="426.30" stroke="#111" stroke-width="0.7" />
<polygon points="221.30,426.30 219.10,427.29 219.10,425.31" fill="#111" stroke="none" stroke-width="0" />
<text x="221.60" y="427.60" font-size="6.0" text-anchor="start" fill="#222" stroke="#222" stroke-width="0.12" >t</text>
<text x="158.50" y="415.40" font-size="6.4" text-anchor="middle" fill="#222" stroke="#222" stroke-width="0.12" transform="rotate(-90 158.5 415.4)" dy="2.2">Power</text>
<text x="189.80" y="433.80" font-size="6.5" text-anchor="middle" fill="#222" stroke="#222" stroke-width="0.12" >Interfering CW Laser</text>
<line x1="436.70" y1="366.30" x2="468.10" y2="366.30" stroke="#ee7d35" stroke-width="2.7" />
<line x1="413.20" y1="376.60" x2="413.20" y2="410.20" stroke="#ee7d35" stroke-width="2.7" />
<line x1="434.80" y1="410.60" x2="474.80" y2="377.40" stroke="#ee7d35" stroke-width="2.7" />
<line x1="437.20" y1="420.00" x2="457.00" y2="420.00" stroke="#6a2ba6" stroke-width="2.6" />
<line x1="476.90" y1="420.00" x2="488.50" y2="420.00" stroke="#6a2ba6" stroke-width="2.6" />
<rect x="390.30" y="357.3" width="46.4" height="19.3" rx="2.6" fill="#fff" stroke="#4d4d4d" stroke-width="0.7"/>
<rect x="390.70" y="410.2" width="46.5" height="19.2" rx="2.6" fill="#fff" stroke="#4d4d4d" stroke-width="0.7"/>
<rect x="468.10" y="356.7" width="36.8" height="21" fill="#b3c3e9"/>
<text x="413.50" y="365.70" font-size="7.2" text-anchor="middle" fill="#222" stroke="#222" stroke-width="0.12" >Signal</text>
<text x="413.50" y="374.40" font-size="7.2" text-anchor="middle" fill="#222" stroke="#222" stroke-width="0.12" >emission</text>
<text x="486.60" y="365.30" font-size="7.2" text-anchor="middle" fill="#222" stroke="#222" stroke-width="0.12" >target</text>
<text x="486.60" y="374.00" font-size="7.2" text-anchor="middle" fill="#222" stroke="#222" stroke-width="0.12" >object</text>
<text x="413.90" y="422.70" font-size="7.2" text-anchor="middle" fill="#222" stroke="#222" stroke-width="0.12" >Detector</text>
<line x1="446.30" y1="361.50" x2="454.38" y2="361.50" stroke="#111" stroke-width="0.7" />
<polygon points="456.30,361.50 453.90,362.58 453.90,360.42" fill="#111" stroke="none" stroke-width="0" />
<line x1="408.40" y1="394.00" x2="408.40" y2="403.58" stroke="#111" stroke-width="0.7" />
<polygon points="408.40,405.50 407.32,403.10 409.48,403.10" fill="#111" stroke="none" stroke-width="0" />
<line x1="447.30" y1="393.40" x2="439.28" y2="400.07" stroke="#111" stroke-width="0.7" />
<polygon points="437.80,401.30 438.95,398.94 440.34,400.60" fill="#111" stroke="none" stroke-width="0" />
<line x1="450.20" y1="414.70" x2="440.52" y2="414.70" stroke="#111" stroke-width="0.7" />
<polygon points="438.60,414.70 441.00,413.62 441.00,415.78" fill="#111" stroke="none" stroke-width="0" />
<text x="407.90" y="385.30" font-size="6.4" text-anchor="middle" fill="#222" stroke="#222" stroke-width="0.12" transform="rotate(-90 407.90 385.3)" dy="2.2">Ref.</text>
<text x="455.60" y="387.60" font-size="6.6" text-anchor="middle" fill="#222" stroke="#222" stroke-width="0.12" transform="rotate(-40 455.60 387.6)" dy="2.2">Echo</text>
<rect x="457.00" y="408.4" width="19.9" height="20.5" fill="#fff" stroke="#333" stroke-width="0.8"/>
<circle cx="466.90" cy="418.6" r="7.2" fill="none" stroke="#333" stroke-width="0.8"/>
<line x1="460.20" y1="426.50" x2="474.22" y2="410.75" stroke="#111" stroke-width="0.7" />
<polygon points="475.60,409.20 474.75,411.92 473.00,410.36" fill="#111" stroke="none" stroke-width="0" />
<text x="466.90" y="436.30" font-size="6.6" text-anchor="middle" fill="#222" stroke="#222" stroke-width="0.12" >Att.</text>
<rect x="488.50" y="398.10" width="74.30" height="37.90" rx="4.6" fill="#fff" stroke="#4d4d4d" stroke-width="0.7"/>
<path d="M499.20 424.8 Q500.10 418 500.40 405.8 Q500.70 418 501.60 424.8 M506.40 424.8 Q507.30 418 507.60 405.8 Q507.90 418 508.80 424.8 M512.30 424.8 Q513.20 418 513.50 405.8 Q513.80 418 514.70 424.8 M518.90 424.8 Q519.80 418 520.10 405.8 Q520.40 418 521.30 424.8 M524.80 424.8 Q525.70 418 526.00 405.8 Q526.30 418 527.20 424.8 M531.40 424.8 Q532.30 418 532.60 405.8 Q532.90 418 533.80 424.8 M537.90 424.8 Q538.80 418 539.10 405.8 Q539.40 418 540.30 424.8 M544.20 424.8 Q545.10 418 545.40 405.8 Q545.70 418 546.60 424.8 M550.80 424.8 Q551.70 418 552.00 405.8 Q552.30 418 553.20 424.8" fill="none" stroke="#e445e6" stroke-width="0.8"/>
<line x1="498.80" y1="425.40" x2="498.80" y2="403.26" stroke="#111" stroke-width="0.7" />
<polygon points="498.80,401.50 499.79,403.70 497.81,403.70" fill="#111" stroke="none" stroke-width="0" />
<line x1="498.80" y1="425.20" x2="555.64" y2="425.20" stroke="#111" stroke-width="0.7" />
<polygon points="557.40,425.20 555.20,426.19 555.20,424.21" fill="#111" stroke="none" stroke-width="0" />
<text x="558.60" y="427.40" font-size="6.0" text-anchor="start" fill="#222" stroke="#222" stroke-width="0.12" >t</text>
<text x="493.30" y="415.00" font-size="6.4" text-anchor="middle" fill="#222" stroke="#222" stroke-width="0.12" transform="rotate(-90 493.3 415) " dy="2.2">Power</text>
<text x="526.00" y="433.90" font-size="6.5" text-anchor="middle" fill="#222" stroke="#222" stroke-width="0.12" >Interfering pulsed Laser</text>
<circle cx="46.60" cy="315.79" r="3.25" fill="#fff" stroke="#1a9ef0" stroke-width="1.1"/>
<circle cx="55.62" cy="319.37" r="3.25" fill="#fff" stroke="#1a9ef0" stroke-width="1.1"/>
<circle cx="64.64" cy="315.79" r="3.25" fill="#fff" stroke="#1a9ef0" stroke-width="1.1"/>
<circle cx="73.66" cy="316.95" r="3.25" fill="#fff" stroke="#1a9ef0" stroke-width="1.1"/>
<circle cx="82.68" cy="319.69" r="3.25" fill="#fff" stroke="#1a9ef0" stroke-width="1.1"/>
<circle cx="91.70" cy="316.52" r="3.25" fill="#fff" stroke="#1a9ef0" stroke-width="1.1"/>
<circle cx="100.72" cy="317.47" r="3.25" fill="#fff" stroke="#1a9ef0" stroke-width="1.1"/>
<circle cx="109.74" cy="316.52" r="3.25" fill="#fff" stroke="#1a9ef0" stroke-width="1.1"/>
<circle cx="118.76" cy="321.37" r="3.25" fill="#fff" stroke="#1a9ef0" stroke-width="1.1"/>
<circle cx="127.78" cy="322.75" r="3.25" fill="#fff" stroke="#1a9ef0" stroke-width="1.1"/>
<circle cx="136.80" cy="321.37" r="3.25" fill="#fff" stroke="#1a9ef0" stroke-width="1.1"/>
<circle cx="145.82" cy="316.74" r="3.25" fill="#fff" stroke="#1a9ef0" stroke-width="1.1"/>
<circle cx="154.84" cy="320.11" r="3.25" fill="#fff" stroke="#1a9ef0" stroke-width="1.1"/>
<circle cx="163.86" cy="324.01" r="3.25" fill="#fff" stroke="#1a9ef0" stroke-width="1.1"/>
<circle cx="172.88" cy="320.95" r="3.25" fill="#fff" stroke="#1a9ef0" stroke-width="1.1"/>
<circle cx="181.90" cy="324.96" r="3.25" fill="#fff" stroke="#1a9ef0" stroke-width="1.1"/>
<circle cx="190.92" cy="321.69" r="3.25" fill="#fff" stroke="#1a9ef0" stroke-width="1.1"/>
<circle cx="199.94" cy="322.32" r="3.25" fill="#fff" stroke="#1a9ef0" stroke-width="1.1"/>
<circle cx="208.96" cy="321.27" r="3.25" fill="#fff" stroke="#1a9ef0" stroke-width="1.1"/>
<circle cx="217.98" cy="328.23" r="3.25" fill="#fff" stroke="#1a9ef0" stroke-width="1.1"/>
<circle cx="227.00" cy="319.05" r="3.25" fill="#fff" stroke="#1a9ef0" stroke-width="1.1"/>
<circle cx="236.02" cy="329.60" r="3.25" fill="#fff" stroke="#1a9ef0" stroke-width="1.1"/>
<circle cx="245.04" cy="320.11" r="3.25" fill="#fff" stroke="#1a9ef0" stroke-width="1.1"/>
<circle cx="254.06" cy="324.96" r="3.25" fill="#fff" stroke="#1a9ef0" stroke-width="1.1"/>
<circle cx="263.08" cy="324.33" r="3.25" fill="#fff" stroke="#1a9ef0" stroke-width="1.1"/>
<circle cx="272.10" cy="329.18" r="3.25" fill="#fff" stroke="#1a9ef0" stroke-width="1.1"/>
<circle cx="280.58" cy="339.93" r="3.25" fill="#fff" stroke="#1a9ef0" stroke-width="1.1"/>
<circle cx="282.47" cy="342.78" r="3.25" fill="#fff" stroke="#1a9ef0" stroke-width="1.1"/>
<circle cx="284.37" cy="352.69" r="3.25" fill="#fff" stroke="#1a9ef0" stroke-width="1.1"/>
<circle cx="287.16" cy="357.86" r="3.25" fill="#fff" stroke="#1a9ef0" stroke-width="1.1"/>
<circle cx="287.52" cy="372.31" r="3.25" fill="#fff" stroke="#1a9ef0" stroke-width="1.1"/>
<circle cx="287.52" cy="379.37" r="3.25" fill="#fff" stroke="#1a9ef0" stroke-width="1.1"/>
<circle cx="289.51" cy="384.12" r="3.25" fill="#fff" stroke="#1a9ef0" stroke-width="1.1"/>
<circle cx="293.57" cy="396.88" r="3.25" fill="#fff" stroke="#1a9ef0" stroke-width="1.1"/>
<circle cx="295.10" cy="412.27" r="3.25" fill="#fff" stroke="#1a9ef0" stroke-width="1.1"/>
<circle cx="296.54" cy="416.49" r="3.25" fill="#fff" stroke="#1a9ef0" stroke-width="1.1"/>
<circle cx="298.44" cy="421.66" r="3.25" fill="#fff" stroke="#1a9ef0" stroke-width="1.1"/>
<circle cx="307.37" cy="432.62" r="3.25" fill="#fff" stroke="#1a9ef0" stroke-width="1.1"/>
<circle cx="310.71" cy="438.85" r="3.25" fill="#fff" stroke="#1a9ef0" stroke-width="1.1"/>
<path d="M46.60 310.41 L46.60 312.04 M46.60 319.54 L46.60 321.16 M43.90 310.41 L49.30 310.41 M43.90 321.16 L49.30 321.16 M55.62 314.31 L55.62 315.62 M55.62 323.12 L55.62 324.43 M52.92 314.31 L58.32 314.31 M52.92 324.43 L58.32 324.43 M64.64 309.88 L64.64 312.04 M64.64 319.54 L64.64 321.69 M61.94 309.88 L67.34 309.88 M61.94 321.69 L67.34 321.69 M73.66 312.83 L73.66 313.20 M73.66 320.70 L73.66 321.06 M70.96 312.83 L76.36 312.83 M70.96 321.06 L76.36 321.06 M82.68 313.78 L82.68 315.94 M82.68 323.44 L82.68 325.59 M79.98 313.78 L85.38 313.78 M79.98 325.59 L85.38 325.59 M89.00 313.68 L94.40 313.68 M89.00 319.37 L94.40 319.37 M100.72 311.46 L100.72 313.72 M100.72 321.22 L100.72 323.48 M98.02 311.46 L103.42 311.46 M98.02 323.48 L103.42 323.48 M109.74 312.52 L109.74 312.77 M109.74 320.27 L109.74 320.53 M107.04 312.52 L112.44 312.52 M107.04 320.53 L112.44 320.53 M116.06 319.27 L121.46 319.27 M116.06 323.48 L121.46 323.48 M125.08 319.05 L130.48 319.05 M125.08 326.44 L130.48 326.44 M136.80 314.10 L136.80 317.62 M136.80 325.12 L136.80 328.65 M134.10 314.10 L139.50 314.10 M134.10 328.65 L139.50 328.65 M143.12 313.04 L148.52 313.04 M143.12 320.43 L148.52 320.43 M152.14 316.74 L157.54 316.74 M152.14 323.48 L157.54 323.48 M163.86 320.11 L163.86 320.26 M163.86 327.76 L163.86 327.91 M161.16 320.11 L166.56 320.11 M161.16 327.91 L166.56 327.91 M172.88 316.00 L172.88 317.20 M172.88 324.70 L172.88 325.91 M170.18 316.00 L175.58 316.00 M170.18 325.91 L175.58 325.91 M179.20 322.01 L184.60 322.01 M179.20 327.91 L184.60 327.91 M188.22 318.74 L193.62 318.74 M188.22 324.64 L193.62 324.64 M199.94 316.84 L199.94 318.57 M199.94 326.07 L199.94 327.81 M197.24 316.84 L202.64 316.84 M197.24 327.81 L202.64 327.81 M208.96 316.63 L208.96 317.52 M208.96 325.02 L208.96 325.91 M206.26 316.63 L211.66 316.63 M206.26 325.91 L211.66 325.91 M215.28 325.28 L220.68 325.28 M215.28 331.18 L220.68 331.18 M227.00 313.04 L227.00 315.30 M227.00 322.80 L227.00 325.07 M224.30 313.04 L229.70 313.04 M224.30 325.07 L229.70 325.07 M233.32 326.96 L238.72 326.96 M233.32 332.24 L238.72 332.24 M245.04 315.68 L245.04 316.36 M245.04 323.86 L245.04 324.54 M242.34 315.68 L247.74 315.68 M242.34 324.54 L247.74 324.54 M254.06 318.42 L254.06 321.21 M254.06 328.71 L254.06 331.50 M251.36 318.42 L256.76 318.42 M251.36 331.50 L256.76 331.50 M263.08 318.95 L263.08 320.58 M263.08 328.08 L263.08 329.71 M260.38 318.95 L265.78 318.95 M260.38 329.71 L265.78 329.71 M272.10 323.59 L272.10 325.43 M272.10 332.93 L272.10 334.77 M269.40 323.59 L274.80 323.59 M269.40 334.77 L274.80 334.77 M277.88 336.24 L283.28 336.24 M277.88 343.62 L283.28 343.62 M282.47 336.45 L282.47 339.03 M282.47 346.53 L282.47 349.11 M279.77 336.45 L285.17 336.45 M279.77 349.11 L285.17 349.11 M281.67 350.06 L287.07 350.06 M281.67 355.33 L287.07 355.33 M287.16 352.06 L287.16 354.11 M287.16 361.61 L287.16 363.66 M284.46 352.06 L289.86 352.06 M284.46 363.66 L289.86 363.66 M287.52 364.40 L287.52 368.56 M287.52 376.06 L287.52 380.22 M284.82 364.40 L290.22 364.40 M284.82 380.22 L290.22 380.22 M284.82 377.26 L290.22 377.26 M284.82 381.48 L290.22 381.48 M289.51 378.85 L289.51 380.37 M289.51 387.87 L289.51 389.39 M286.81 378.85 L292.21 378.85 M286.81 389.39 L292.21 389.39 M293.57 392.66 L293.57 393.13 M293.57 400.63 L293.57 401.10 M290.87 392.66 L296.27 392.66 M290.87 401.10 L296.27 401.10 M292.40 408.58 L297.80 408.58 M292.40 415.96 L297.80 415.96 M293.84 413.33 L299.24 413.33 M293.84 419.65 L299.24 419.65 M295.74 419.76 L301.14 419.76 M295.74 423.56 L301.14 423.56 M307.37 428.41 L307.37 428.87 M307.37 436.37 L307.37 436.84 M304.67 428.41 L310.07 428.41 M304.67 436.84 L310.07 436.84 M308.01 436.74 L313.41 436.74 M308.01 440.96 L313.41 440.96 " stroke="#3333a0" stroke-width="1.15" fill="none"/>
<circle cx="385.40" cy="314.77" r="3.25" fill="#fff" stroke="#1a9ef0" stroke-width="1.1"/>
<circle cx="397.36" cy="317.44" r="3.25" fill="#fff" stroke="#1a9ef0" stroke-width="1.1"/>
<circle cx="409.33" cy="316.17" r="3.25" fill="#fff" stroke="#1a9ef0" stroke-width="1.1"/>
<circle cx="421.29" cy="318.42" r="3.25" fill="#fff" stroke="#1a9ef0" stroke-width="1.1"/>
<circle cx="433.26" cy="319.13" r="3.25" fill="#fff" stroke="#1a9ef0" stroke-width="1.1"/>
<circle cx="445.22" cy="313.50" r="3.25" fill="#fff" stroke="#1a9ef0" stroke-width="1.1"/>
<circle cx="457.19" cy="318.00" r="3.25" fill="#fff" stroke="#1a9ef0" stroke-width="1.1"/>
<circle cx="469.15" cy="319.41" r="3.25" fill="#fff" stroke="#1a9ef0" stroke-width="1.1"/>
<circle cx="481.12" cy="324.33" r="3.25" fill="#fff" stroke="#1a9ef0" stroke-width="1.1"/>
<circle cx="493.08" cy="324.33" r="3.25" fill="#fff" stroke="#1a9ef0" stroke-width="1.1"/>
<circle cx="505.05" cy="328.69" r="3.25" fill="#fff" stroke="#1a9ef0" stroke-width="1.1"/>
<circle cx="517.01" cy="331.92" r="3.25" fill="#fff" stroke="#1a9ef0" stroke-width="1.1"/>
<circle cx="528.98" cy="334.45" r="3.25" fill="#fff" stroke="#1a9ef0" stroke-width="1.1"/>
<circle cx="540.94" cy="334.45" r="3.25" fill="#fff" stroke="#1a9ef0" stroke-width="1.1"/>
<circle cx="546.21" cy="336.42" r="3.25" fill="#fff" stroke="#1a9ef0" stroke-width="1.1"/>
<circle cx="548.12" cy="337.12" r="3.25" fill="#fff" stroke="#1a9ef0" stroke-width="1.1"/>
<circle cx="550.52" cy="344.15" r="3.25" fill="#fff" stroke="#1a9ef0" stroke-width="1.1"/>
<circle cx="564.99" cy="344.57" r="3.25" fill="#fff" stroke="#1a9ef0" stroke-width="1.1"/>
<circle cx="576.96" cy="348.51" r="3.25" fill="#fff" stroke="#1a9ef0" stroke-width="1.1"/>
<circle cx="588.80" cy="352.17" r="3.25" fill="#fff" stroke="#1a9ef0" stroke-width="1.1"/>
<circle cx="600.77" cy="365.66" r="3.25" fill="#fff" stroke="#1a9ef0" stroke-width="1.1"/>
<circle cx="612.74" cy="377.19" r="3.25" fill="#fff" stroke="#1a9ef0" stroke-width="1.1"/>
<circle cx="624.58" cy="395.61" r="3.25" fill="#fff" stroke="#1a9ef0" stroke-width="1.1"/>
<circle cx="629.49" cy="409.53" r="3.25" fill="#fff" stroke="#1a9ef0" stroke-width="1.1"/>
<circle cx="631.64" cy="426.97" r="3.25" fill="#fff" stroke="#1a9ef0" stroke-width="1.1"/>
<circle cx="635.35" cy="453.82" r="3.25" fill="#fff" stroke="#1a9ef0" stroke-width="1.1"/>
<circle cx="636.19" cy="471.11" r="3.25" fill="#fff" stroke="#1a9ef0" stroke-width="1.1"/>
<circle cx="648.51" cy="481.24" r="3.25" fill="#fff" stroke="#1a9ef0" stroke-width="1.1"/>
<path d="M385.40 309.85 L385.40 311.02 M385.40 318.52 L385.40 319.69 M382.70 309.85 L388.10 309.85 M382.70 319.69 L388.10 319.69 M397.36 311.53 L397.36 313.69 M397.36 321.19 L397.36 323.34 M394.66 311.53 L400.06 311.53 M394.66 323.34 L400.06 323.34 M409.33 311.95 L409.33 312.42 M409.33 319.92 L409.33 320.39 M406.63 311.95 L412.03 311.95 M406.63 320.39 L412.03 320.39 M421.29 309.56 L421.29 314.67 M421.29 322.17 L421.29 327.28 M418.59 309.56 L423.99 309.56 M418.59 327.28 L423.99 327.28 M433.26 307.88 L433.26 315.38 M433.26 322.88 L433.26 330.37 M430.56 307.88 L435.96 307.88 M430.56 330.37 L435.96 330.37 M445.22 309.42 L445.22 309.75 M445.22 317.25 L445.22 317.58 M442.52 309.42 L447.92 309.42 M442.52 317.58 L447.92 317.58 M457.19 310.27 L457.19 314.25 M457.19 321.75 L457.19 325.73 M454.49 310.27 L459.89 310.27 M454.49 325.73 L459.89 325.73 M469.15 314.20 L469.15 315.66 M469.15 323.16 L469.15 324.61 M466.45 314.20 L471.85 314.20 M466.45 324.61 L471.85 324.61 M481.12 316.31 L481.12 320.58 M481.12 328.08 L481.12 332.34 M478.42 316.31 L483.82 316.31 M478.42 332.34 L483.82 332.34 M493.08 319.97 L493.08 320.58 M493.08 328.08 L493.08 328.69 M490.38 319.97 L495.78 319.97 M490.38 328.69 L495.78 328.69 M502.35 326.01 L507.75 326.01 M502.35 331.36 L507.75 331.36 M517.01 327.98 L517.01 328.17 M517.01 335.67 L517.01 335.86 M514.31 327.98 L519.72 327.98 M514.31 335.86 L519.72 335.86 M528.98 327.42 L528.98 330.70 M528.98 338.20 L528.98 341.48 M526.28 327.42 L531.68 327.42 M526.28 341.48 L531.68 341.48 M538.24 331.50 L543.64 331.50 M538.24 337.40 L543.64 337.40 M546.21 329.53 L546.21 332.67 M546.21 340.17 L546.21 343.31 M543.51 329.53 L548.91 329.53 M543.51 343.31 L548.91 343.31 M545.42 334.31 L550.82 334.31 M545.42 339.93 L550.82 339.93 M550.52 340.07 L550.52 340.40 M550.52 347.90 L550.52 348.23 M547.82 340.07 L553.22 340.07 M547.82 348.23 L553.22 348.23 M564.99 338.95 L564.99 340.82 M564.99 348.32 L564.99 350.20 M562.29 338.95 L567.69 338.95 M562.29 350.20 L567.69 350.20 M576.96 340.92 L576.96 344.76 M576.96 352.26 L576.96 356.10 M574.26 340.92 L579.66 340.92 M574.26 356.10 L579.66 356.10 M588.80 347.53 L588.80 348.42 M588.80 355.92 L588.80 356.81 M586.10 347.53 L591.50 347.53 M586.10 356.81 L591.50 356.81 M600.77 358.07 L600.77 361.91 M600.77 369.41 L600.77 373.26 M598.07 358.07 L603.47 358.07 M598.07 373.26 L603.47 373.26 M612.74 370.44 L612.74 373.44 M612.74 380.94 L612.74 383.94 M610.03 370.44 L615.44 370.44 M610.03 383.94 L615.44 383.94 M624.58 389.28 L624.58 391.86 M624.58 399.36 L624.58 401.94 M621.88 389.28 L627.28 389.28 M621.88 401.94 L627.28 401.94 M629.49 402.50 L629.49 405.78 M629.49 413.28 L629.49 416.56 M626.79 402.50 L632.19 402.50 M626.79 416.56 L632.19 416.56 M631.64 418.67 L631.64 423.22 M631.64 430.72 L631.64 435.26 M628.94 418.67 L634.34 418.67 M628.94 435.26 L634.34 435.26 M635.35 448.34 L635.35 450.07 M635.35 457.57 L635.35 459.30 M632.65 448.34 L638.05 448.34 M632.65 459.30 L638.05 459.30 M636.19 466.90 L636.19 467.36 M636.19 474.86 L636.19 475.33 M633.49 466.90 L638.89 466.90 M633.49 475.33 L638.89 475.33 M648.51 476.46 L648.51 477.49 M648.51 484.99 L648.51 486.02 M645.81 476.46 L651.21 476.46 M645.81 486.02 L651.21 486.02 " stroke="#3333a0" stroke-width="1.15" fill="none"/></svg></body></html>
